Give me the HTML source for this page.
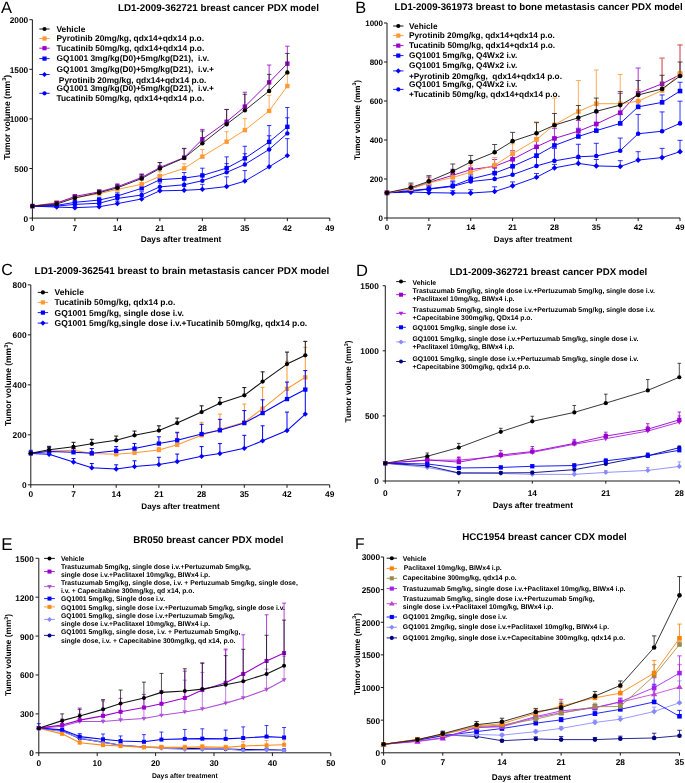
<!DOCTYPE html>
<html><head><meta charset="utf-8"><style>
html,body{margin:0;padding:0;background:#fff;width:685px;height:783px;overflow:hidden}
svg{display:block;will-change:transform}
text{font-family:"Liberation Sans", sans-serif;text-rendering:geometricPrecision}
</style></head><body>
<svg width="685" height="783" viewBox="0 0 685 783">
<text x="1" y="13.2" font-size="16.5" text-anchor="start" font-weight="normal" fill="#000">A</text>
<text x="118" y="11.1" font-size="9.83" text-anchor="start" font-weight="bold" fill="#000">LD1-2009-362721 breast cancer PDX model</text>
<path d="M32.4 19.7V218.1 M31.9 218.1H329.83" stroke="#1a1a1a" stroke-width="1.0" fill="none"/>
<path d="M29.4 218.1H32.4M29.4 168.5H32.4M29.4 118.9H32.4M29.4 69.3H32.4M29.4 19.7H32.4M32.4 218.1V221.1M74.89 218.1V221.1M117.38 218.1V221.1M159.87 218.1V221.1M202.36 218.1V221.1M244.85 218.1V221.1M287.34 218.1V221.1M329.83 218.1V221.1" stroke="#1a1a1a" stroke-width="1.0" fill="none"/>
<text x="28.2" y="221.59" font-size="8.3" text-anchor="end" font-weight="bold" fill="#000">0</text>
<text x="28.2" y="171.99" font-size="8.3" text-anchor="end" font-weight="bold" fill="#000">500</text>
<text x="28.2" y="122.39" font-size="8.3" text-anchor="end" font-weight="bold" fill="#000">1000</text>
<text x="28.2" y="72.79" font-size="8.3" text-anchor="end" font-weight="bold" fill="#000">1500</text>
<text x="28.2" y="23.19" font-size="8.3" text-anchor="end" font-weight="bold" fill="#000">2000</text>
<text x="32.4" y="230.6" font-size="8.3" text-anchor="middle" font-weight="bold" fill="#000">0</text>
<text x="74.89" y="230.6" font-size="8.3" text-anchor="middle" font-weight="bold" fill="#000">7</text>
<text x="117.38" y="230.6" font-size="8.3" text-anchor="middle" font-weight="bold" fill="#000">14</text>
<text x="159.87" y="230.6" font-size="8.3" text-anchor="middle" font-weight="bold" fill="#000">21</text>
<text x="202.36" y="230.6" font-size="8.3" text-anchor="middle" font-weight="bold" fill="#000">28</text>
<text x="244.85" y="230.6" font-size="8.3" text-anchor="middle" font-weight="bold" fill="#000">35</text>
<text x="287.34" y="230.6" font-size="8.3" text-anchor="middle" font-weight="bold" fill="#000">42</text>
<text x="329.83" y="230.6" font-size="8.3" text-anchor="middle" font-weight="bold" fill="#000">49</text>
<text x="181" y="242.2" font-size="8.35" text-anchor="middle" font-weight="bold" fill="#000">Days after treatment</text>
<text transform="translate(9.6 117.3) rotate(-90)" font-size="8.6" text-anchor="middle" font-weight="bold">Tumor volume (mm<tspan font-size="5.59" dy="-3.27">3</tspan><tspan dy="3.27">)</tspan></text>
<path d="M56.68 207.09V205.7 M54.48 205.7H58.88M74.89 207.68V206.2 M72.69 206.2H77.09M99.17 206.69V204.71 M96.97 204.71H101.37M117.38 203.62V201.24 M115.18 201.24H119.58M141.66 198.95V196.28 M139.46 196.28H143.86M159.87 190.82V187.35 M157.67 187.35H162.07M184.15 190.32V186.36 M181.95 186.36H186.35M202.36 189.33V184.37 M200.16 184.37H204.56M226.64 186.55V176.83 M224.44 176.83H228.84M244.85 181.1V170.58 M242.65 170.58H247.05M269.13 166.81V149.45 M266.93 149.45H271.33M287.34 155.6V138.64 M285.14 138.64H289.54" stroke="#0000FF" stroke-width="0.8" fill="none"/>
<polyline points="32.4,206.1 56.68,207.09 74.89,207.68 99.17,206.69 117.38,203.62 141.66,198.95 159.87,190.82 184.15,190.32 202.36,189.33 226.64,186.55 244.85,181.1 269.13,166.81 287.34,155.6" stroke="#0000FF" stroke-width="0.95" fill="none" stroke-linejoin="round"/>
<path d="M32.4 203.37L35.13 206.1L32.4 208.82L29.67 206.1Z" fill="#0000FF"/>
<path d="M56.68 204.36L59.41 207.09L56.68 209.82L53.95 207.09Z" fill="#0000FF"/>
<path d="M74.89 204.96L77.62 207.68L74.89 210.41L72.16 207.68Z" fill="#0000FF"/>
<path d="M99.17 203.96L101.9 206.69L99.17 209.42L96.44 206.69Z" fill="#0000FF"/>
<path d="M117.38 200.89L120.11 203.62L117.38 206.34L114.65 203.62Z" fill="#0000FF"/>
<path d="M141.66 196.23L144.39 198.95L141.66 201.68L138.93 198.95Z" fill="#0000FF"/>
<path d="M159.87 188.09L162.6 190.82L159.87 193.55L157.14 190.82Z" fill="#0000FF"/>
<path d="M184.15 187.6L186.88 190.32L184.15 193.05L181.42 190.32Z" fill="#0000FF"/>
<path d="M202.36 186.6L205.09 189.33L202.36 192.06L199.63 189.33Z" fill="#0000FF"/>
<path d="M226.64 183.83L229.37 186.55L226.64 189.28L223.91 186.55Z" fill="#0000FF"/>
<path d="M244.85 178.37L247.58 181.1L244.85 183.83L242.12 181.1Z" fill="#0000FF"/>
<path d="M269.13 164.09L271.86 166.81L269.13 169.54L266.4 166.81Z" fill="#0000FF"/>
<path d="M287.34 152.88L290.07 155.6L287.34 158.33L284.61 155.6Z" fill="#0000FF"/>
<path d="M56.68 206.1V204.21 M54.48 204.21H58.88M74.89 204.41V202.23 M72.69 202.23H77.09M99.17 203.22V200.74 M96.97 200.74H101.37M117.38 198.46V195.78 M115.18 195.78H119.58M141.66 194.99V191.81 M139.46 191.81H143.86M159.87 186.85V182.88 M157.67 182.88H162.07M184.15 184.77V180.4 M181.95 180.4H186.35M202.36 180.7V175.44 M200.16 175.44H204.56M226.64 172.37V163.64 M224.44 163.64H228.84M244.85 164.43V153.72 M242.65 153.72H247.05M269.13 149.45V135.76 M266.93 135.76H271.33M287.34 133.38V117.81 M285.14 117.81H289.54" stroke="#0000FF" stroke-width="0.8" fill="none"/>
<polyline points="32.4,206.1 56.68,206.1 74.89,204.41 99.17,203.22 117.38,198.46 141.66,194.99 159.87,186.85 184.15,184.77 202.36,180.7 226.64,172.37 244.85,164.43 269.13,149.45 287.34,133.38" stroke="#0000FF" stroke-width="0.95" fill="none" stroke-linejoin="round"/>
<circle cx="32.4" cy="206.1" r="2.2" fill="#0000FF"/>
<circle cx="56.68" cy="206.1" r="2.2" fill="#0000FF"/>
<circle cx="74.89" cy="204.41" r="2.2" fill="#0000FF"/>
<circle cx="99.17" cy="203.22" r="2.2" fill="#0000FF"/>
<circle cx="117.38" cy="198.46" r="2.2" fill="#0000FF"/>
<circle cx="141.66" cy="194.99" r="2.2" fill="#0000FF"/>
<circle cx="159.87" cy="186.85" r="2.2" fill="#0000FF"/>
<circle cx="184.15" cy="184.77" r="2.2" fill="#0000FF"/>
<circle cx="202.36" cy="180.7" r="2.2" fill="#0000FF"/>
<circle cx="226.64" cy="172.37" r="2.2" fill="#0000FF"/>
<circle cx="244.85" cy="164.43" r="2.2" fill="#0000FF"/>
<circle cx="269.13" cy="149.45" r="2.2" fill="#0000FF"/>
<circle cx="287.34" cy="133.38" r="2.2" fill="#0000FF"/>
<path d="M56.68 205.4V203.22 M54.48 203.22H58.88M74.89 202.33V199.75 M72.69 199.75H77.09M99.17 200.05V197.27 M96.97 197.27H101.37M117.38 195.98V192.8 M115.18 192.8H119.58M141.66 188.34V184.37 M139.46 184.37H143.86M159.87 179.71V175.44 M157.67 175.44H162.07M184.15 178.12V172.47 M181.95 172.47H186.35M202.36 175.44V168.2 M200.16 168.2H204.56M226.64 168.1V156.89 M224.44 156.89H228.84M244.85 158.38V146.28 M242.65 146.28H247.05M269.13 141.91V125.55 M266.93 125.55H271.33M287.34 126.84V107.49 M285.14 107.49H289.54" stroke="#0000FF" stroke-width="0.8" fill="none"/>
<polyline points="32.4,206.1 56.68,205.4 74.89,202.33 99.17,200.05 117.38,195.98 141.66,188.34 159.87,179.71 184.15,178.12 202.36,175.44 226.64,168.1 244.85,158.38 269.13,141.91 287.34,126.84" stroke="#0000FF" stroke-width="0.95" fill="none" stroke-linejoin="round"/>
<rect x="30.2" y="203.9" width="4.4" height="4.4" fill="#0000FF"/>
<rect x="54.48" y="203.2" width="4.4" height="4.4" fill="#0000FF"/>
<rect x="72.69" y="200.13" width="4.4" height="4.4" fill="#0000FF"/>
<rect x="96.97" y="197.85" width="4.4" height="4.4" fill="#0000FF"/>
<rect x="115.18" y="193.78" width="4.4" height="4.4" fill="#0000FF"/>
<rect x="139.46" y="186.14" width="4.4" height="4.4" fill="#0000FF"/>
<rect x="157.67" y="177.51" width="4.4" height="4.4" fill="#0000FF"/>
<rect x="181.95" y="175.92" width="4.4" height="4.4" fill="#0000FF"/>
<rect x="200.16" y="173.24" width="4.4" height="4.4" fill="#0000FF"/>
<rect x="224.44" y="165.9" width="4.4" height="4.4" fill="#0000FF"/>
<rect x="242.65" y="156.18" width="4.4" height="4.4" fill="#0000FF"/>
<rect x="266.93" y="139.71" width="4.4" height="4.4" fill="#0000FF"/>
<rect x="285.14" y="124.64" width="4.4" height="4.4" fill="#0000FF"/>
<path d="M56.68 202.53V201.24 M54.48 201.24H58.88M74.89 197.66V195.78 M72.69 195.78H77.09M99.17 193.7V191.32 M96.97 191.32H101.37M117.38 189.43V186.36 M115.18 186.36H119.58M141.66 184.27V180.4 M139.46 180.4H143.86M159.87 176.24V171.48 M157.67 171.48H162.07M184.15 168.4V163.74 M181.95 163.74H186.35M202.36 156.6V149.45 M200.16 149.45H204.56M226.64 141.72V131.7 M224.44 131.7H228.84M244.85 130.11V118.7 M242.65 118.7H247.05M269.13 110.96V95.29 M266.93 95.29H271.33M287.34 86.06V73.76 M285.14 73.76H289.54" stroke="#FF9933" stroke-width="0.8" fill="none"/>
<polyline points="32.4,206.1 56.68,202.53 74.89,197.66 99.17,193.7 117.38,189.43 141.66,184.27 159.87,176.24 184.15,168.4 202.36,156.6 226.64,141.72 244.85,130.11 269.13,110.96 287.34,86.06" stroke="#FF9933" stroke-width="0.95" fill="none" stroke-linejoin="round"/>
<rect x="30.2" y="203.9" width="4.4" height="4.4" fill="#FF9933"/>
<rect x="54.48" y="200.33" width="4.4" height="4.4" fill="#FF9933"/>
<rect x="72.69" y="195.46" width="4.4" height="4.4" fill="#FF9933"/>
<rect x="96.97" y="191.5" width="4.4" height="4.4" fill="#FF9933"/>
<rect x="115.18" y="187.23" width="4.4" height="4.4" fill="#FF9933"/>
<rect x="139.46" y="182.07" width="4.4" height="4.4" fill="#FF9933"/>
<rect x="157.67" y="174.04" width="4.4" height="4.4" fill="#FF9933"/>
<rect x="181.95" y="166.2" width="4.4" height="4.4" fill="#FF9933"/>
<rect x="200.16" y="154.4" width="4.4" height="4.4" fill="#FF9933"/>
<rect x="224.44" y="139.52" width="4.4" height="4.4" fill="#FF9933"/>
<rect x="242.65" y="127.91" width="4.4" height="4.4" fill="#FF9933"/>
<rect x="266.93" y="108.76" width="4.4" height="4.4" fill="#FF9933"/>
<rect x="285.14" y="83.86" width="4.4" height="4.4" fill="#FF9933"/>
<path d="M56.68 203.22V201.24 M54.48 201.24H58.88M74.89 196.38V194.79 M72.69 194.79H77.09M99.17 191.91V189.83 M96.97 189.83H101.37M117.38 186.75V183.88 M115.18 183.88H119.58M141.66 177.43V173.96 M139.46 173.96H143.86M159.87 167.51V162.55 M157.67 162.55H162.07M184.15 157.59V148.66 M181.95 148.66H186.35M202.36 139.24V129.42 M200.16 129.42H204.56M226.64 121.78V109.38 M224.44 109.38H228.84M244.85 106.6V92.22 M242.65 92.22H247.05M269.13 82.39V65.03 M266.93 65.03H271.33M287.34 63.65V46.19 M285.14 46.19H289.54" stroke="#9900CC" stroke-width="0.8" fill="none"/>
<polyline points="32.4,206.1 56.68,203.22 74.89,196.38 99.17,191.91 117.38,186.75 141.66,177.43 159.87,167.51 184.15,157.59 202.36,139.24 226.64,121.78 244.85,106.6 269.13,82.39 287.34,63.65" stroke="#9900CC" stroke-width="0.95" fill="none" stroke-linejoin="round"/>
<rect x="30.2" y="203.9" width="4.4" height="4.4" fill="#9900CC"/>
<rect x="54.48" y="201.02" width="4.4" height="4.4" fill="#9900CC"/>
<rect x="72.69" y="194.18" width="4.4" height="4.4" fill="#9900CC"/>
<rect x="96.97" y="189.71" width="4.4" height="4.4" fill="#9900CC"/>
<rect x="115.18" y="184.55" width="4.4" height="4.4" fill="#9900CC"/>
<rect x="139.46" y="175.23" width="4.4" height="4.4" fill="#9900CC"/>
<rect x="157.67" y="165.31" width="4.4" height="4.4" fill="#9900CC"/>
<rect x="181.95" y="155.39" width="4.4" height="4.4" fill="#9900CC"/>
<rect x="200.16" y="137.04" width="4.4" height="4.4" fill="#9900CC"/>
<rect x="224.44" y="119.58" width="4.4" height="4.4" fill="#9900CC"/>
<rect x="242.65" y="104.4" width="4.4" height="4.4" fill="#9900CC"/>
<rect x="266.93" y="80.19" width="4.4" height="4.4" fill="#9900CC"/>
<rect x="285.14" y="61.45" width="4.4" height="4.4" fill="#9900CC"/>
<path d="M56.68 204.11V201.73 M54.48 201.73H58.88M74.89 197.96V195.78 M72.69 195.78H77.09M99.17 192.7V190.32 M96.97 190.32H101.37M117.38 187.84V184.87 M115.18 184.87H119.58M141.66 178.52V174.45 M139.46 174.45H143.86M159.87 168.5V162.55 M157.67 162.55H162.07M184.15 157.98V148.36 M181.95 148.36H186.35M202.36 143.3V131 M200.16 131H204.56M226.64 124.26V109.58 M224.44 109.58H228.84M244.85 110.37V94.3 M242.65 94.3H247.05M269.13 91.02V74.36 M266.93 74.36H271.33M287.34 72.38V53.43 M285.14 53.43H289.54" stroke="#222" stroke-width="0.8" fill="none"/>
<polyline points="32.4,206.1 56.68,204.11 74.89,197.96 99.17,192.7 117.38,187.84 141.66,178.52 159.87,168.5 184.15,157.98 202.36,143.3 226.64,124.26 244.85,110.37 269.13,91.02 287.34,72.38" stroke="#222" stroke-width="0.95" fill="none" stroke-linejoin="round"/>
<circle cx="32.4" cy="206.1" r="2.2" fill="#000000"/>
<circle cx="56.68" cy="204.11" r="2.2" fill="#000000"/>
<circle cx="74.89" cy="197.96" r="2.2" fill="#000000"/>
<circle cx="99.17" cy="192.7" r="2.2" fill="#000000"/>
<circle cx="117.38" cy="187.84" r="2.2" fill="#000000"/>
<circle cx="141.66" cy="178.52" r="2.2" fill="#000000"/>
<circle cx="159.87" cy="168.5" r="2.2" fill="#000000"/>
<circle cx="184.15" cy="157.98" r="2.2" fill="#000000"/>
<circle cx="202.36" cy="143.3" r="2.2" fill="#000000"/>
<circle cx="226.64" cy="124.26" r="2.2" fill="#000000"/>
<circle cx="244.85" cy="110.37" r="2.2" fill="#000000"/>
<circle cx="269.13" cy="91.02" r="2.2" fill="#000000"/>
<circle cx="287.34" cy="72.38" r="2.2" fill="#000000"/>
<path d="M39.3 29H49.7" stroke="#000000" stroke-width="0.9" fill="none"/>
<circle cx="44.5" cy="29" r="2.1" fill="#000000"/>
<text x="56.5" y="31.8" font-size="8.37" text-anchor="start" font-weight="bold" fill="#000" xml:space="preserve">Vehicle</text>
<path d="M39.3 38.5H49.7" stroke="#FF9933" stroke-width="0.9" fill="none"/>
<rect x="42.4" y="36.4" width="4.2" height="4.2" fill="#FF9933"/>
<text x="56.5" y="41.3" font-size="8.37" text-anchor="start" font-weight="bold" fill="#000" xml:space="preserve">Pyrotinib 20mg/kg, qdx14+qdx14 p.o.</text>
<path d="M39.3 48.2H49.7" stroke="#9900CC" stroke-width="0.9" fill="none"/>
<rect x="42.4" y="46.1" width="4.2" height="4.2" fill="#9900CC"/>
<text x="56.5" y="51" font-size="8.37" text-anchor="start" font-weight="bold" fill="#000" xml:space="preserve">Tucatinib 50mg/kg, qdx14+qdx14 p.o.</text>
<path d="M39.3 58.6H49.7" stroke="#0000FF" stroke-width="0.9" fill="none"/>
<rect x="42.4" y="56.5" width="4.2" height="4.2" fill="#0000FF"/>
<text x="56.5" y="61" font-size="8.37" text-anchor="start" font-weight="bold" fill="#000" xml:space="preserve">GQ1001 3mg/kg(D0)+5mg/kg(D21),  i.v.</text>
<path d="M39.3 74.5H49.7" stroke="#0000FF" stroke-width="0.9" fill="none"/>
<path d="M44.5 71.9L47.1 74.5L44.5 77.1L41.9 74.5Z" fill="#0000FF"/>
<text x="56.5" y="71.8" font-size="8.37" text-anchor="start" font-weight="bold" fill="#000" xml:space="preserve">GQ1001 3mg/kg(D0)+5mg/kg(D21),  i.v.+</text>
<text x="56.5" y="82.6" font-size="8.37" text-anchor="start" font-weight="bold" fill="#000" xml:space="preserve"> Pyrotinib 20mg/kg, qdx14+qdx14 p.o.</text>
<path d="M39.3 93.3H49.7" stroke="#0000FF" stroke-width="0.9" fill="none"/>
<circle cx="44.5" cy="93.3" r="2.1" fill="#0000FF"/>
<text x="56.5" y="90.8" font-size="8.37" text-anchor="start" font-weight="bold" fill="#000" xml:space="preserve">GQ1001 3mg/kg(D0)+5mg/kg(D21),  i.v.+</text>
<text x="56.5" y="100.6" font-size="8.37" text-anchor="start" font-weight="bold" fill="#000" xml:space="preserve">Tucatinib 50mg/kg, qdx14+qdx14 p.o.</text>
<text x="355.2" y="13.2" font-size="16.4" text-anchor="start" font-weight="normal" fill="#000">B</text>
<text x="394.5" y="10" font-size="9.68" text-anchor="start" font-weight="bold" fill="#000">LD1-2009-361973 breast to bone metastasis cancer PDX model</text>
<path d="M387 23V218 M386.5 218H680.02" stroke="#1a1a1a" stroke-width="1.0" fill="none"/>
<path d="M384 218H387M384 179H387M384 140H387M384 101H387M384 62H387M384 23H387M387 218V221M428.86 218V221M470.72 218V221M512.58 218V221M554.44 218V221M596.3 218V221M638.16 218V221M680.02 218V221" stroke="#1a1a1a" stroke-width="1.0" fill="none"/>
<text x="383" y="221.36" font-size="8" text-anchor="end" font-weight="bold" fill="#000">0</text>
<text x="383" y="182.36" font-size="8" text-anchor="end" font-weight="bold" fill="#000">200</text>
<text x="383" y="143.36" font-size="8" text-anchor="end" font-weight="bold" fill="#000">400</text>
<text x="383" y="104.36" font-size="8" text-anchor="end" font-weight="bold" fill="#000">600</text>
<text x="383" y="65.36" font-size="8" text-anchor="end" font-weight="bold" fill="#000">800</text>
<text x="383" y="26.36" font-size="8" text-anchor="end" font-weight="bold" fill="#000">1000</text>
<text x="387" y="230.3" font-size="8" text-anchor="middle" font-weight="bold" fill="#000">0</text>
<text x="428.86" y="230.3" font-size="8" text-anchor="middle" font-weight="bold" fill="#000">7</text>
<text x="470.72" y="230.3" font-size="8" text-anchor="middle" font-weight="bold" fill="#000">14</text>
<text x="512.58" y="230.3" font-size="8" text-anchor="middle" font-weight="bold" fill="#000">21</text>
<text x="554.44" y="230.3" font-size="8" text-anchor="middle" font-weight="bold" fill="#000">28</text>
<text x="596.3" y="230.3" font-size="8" text-anchor="middle" font-weight="bold" fill="#000">35</text>
<text x="638.16" y="230.3" font-size="8" text-anchor="middle" font-weight="bold" fill="#000">42</text>
<text x="680.02" y="230.3" font-size="8" text-anchor="middle" font-weight="bold" fill="#000">49</text>
<text x="533" y="242" font-size="8.1" text-anchor="middle" font-weight="bold" fill="#000">Days after treatment</text>
<text transform="translate(359.5 120) rotate(-90)" font-size="8.1" text-anchor="middle" font-weight="bold">Tumor volume (mm<tspan font-size="5.26" dy="-3.08">3</tspan><tspan dy="3.08">)</tspan></text>
<path d="M410.92 192.06V189.72 M408.42 189.72H413.42M428.86 192.65V189.72 M426.36 189.72H431.36M452.78 193.04V190.7 M450.28 190.7H455.28M470.72 193.04V189.72 M468.22 189.72H473.22M494.64 191.48V186.8 M492.14 186.8H497.14M512.58 185.82V181.93 M510.08 181.93H515.08M536.5 177.25V173.54 M534 173.54H539M554.44 167.88V164.38 M551.94 164.38H556.94M578.36 163.4V158.53 M575.86 158.53H580.86M596.3 165.94V159.5 M593.8 159.5H598.8M620.22 166.52V160.67 M617.72 160.67H622.72M638.16 160.09V151.7 M635.66 151.7H640.66M662.08 157.55V148.38 M659.58 148.38H664.58M680.02 151.7V140.39 M677.52 140.39H682.52" stroke="#0000FF" stroke-width="0.8" fill="none"/>
<polyline points="387,192.84 410.92,192.06 428.86,192.65 452.78,193.04 470.72,193.04 494.64,191.48 512.58,185.82 536.5,177.25 554.44,167.88 578.36,163.4 596.3,165.94 620.22,166.52 638.16,160.09 662.08,157.55 680.02,151.7" stroke="#0000FF" stroke-width="0.95" fill="none" stroke-linejoin="round"/>
<path d="M387 189.99L389.85 192.84L387 195.7L384.15 192.84Z" fill="#0000FF"/>
<path d="M410.92 189.21L413.77 192.06L410.92 194.92L408.07 192.06Z" fill="#0000FF"/>
<path d="M428.86 189.8L431.71 192.65L428.86 195.5L426.01 192.65Z" fill="#0000FF"/>
<path d="M452.78 190.19L455.63 193.04L452.78 195.89L449.93 193.04Z" fill="#0000FF"/>
<path d="M470.72 190.19L473.57 193.04L470.72 195.89L467.87 193.04Z" fill="#0000FF"/>
<path d="M494.64 188.63L497.49 191.48L494.64 194.33L491.79 191.48Z" fill="#0000FF"/>
<path d="M512.58 182.97L515.43 185.82L512.58 188.68L509.73 185.82Z" fill="#0000FF"/>
<path d="M536.5 174.39L539.35 177.25L536.5 180.1L533.65 177.25Z" fill="#0000FF"/>
<path d="M554.44 165.03L557.29 167.88L554.44 170.74L551.59 167.88Z" fill="#0000FF"/>
<path d="M578.36 160.55L581.21 163.4L578.36 166.25L575.51 163.4Z" fill="#0000FF"/>
<path d="M596.3 163.08L599.15 165.94L596.3 168.79L593.45 165.94Z" fill="#0000FF"/>
<path d="M620.22 163.67L623.07 166.52L620.22 169.37L617.37 166.52Z" fill="#0000FF"/>
<path d="M638.16 157.23L641.01 160.09L638.16 162.94L635.31 160.09Z" fill="#0000FF"/>
<path d="M662.08 154.7L664.93 157.55L662.08 160.4L659.23 157.55Z" fill="#0000FF"/>
<path d="M680.02 148.85L682.87 151.7L680.02 154.55L677.17 151.7Z" fill="#0000FF"/>
<path d="M410.92 191.28V188.75 M408.42 188.75H413.42M428.86 189.14V185.82 M426.36 185.82H431.36M452.78 186.41V181.93 M450.28 181.93H455.28M470.72 181.53V176.07 M468.22 176.07H473.22M494.64 179V172.18 M492.14 172.18H497.14M512.58 174.71V166.32 M510.08 166.32H515.08M536.5 165.94V157.55 M534 157.55H539M554.44 160.87V148.38 M551.94 148.38H556.94M578.36 156.77V144.29 M575.86 144.29H580.86M596.3 155.99V143.31 M593.8 143.31H598.8M620.22 150.72V138.05 M617.72 138.05H622.72M638.16 133.76V114.45 M635.66 114.45H640.66M662.08 131.22V111.92 M659.58 111.92H664.58M680.02 123.42V101.19 M677.52 101.19H682.52" stroke="#0000FF" stroke-width="0.8" fill="none"/>
<polyline points="387,192.84 410.92,191.28 428.86,189.14 452.78,186.41 470.72,181.53 494.64,179 512.58,174.71 536.5,165.94 554.44,160.87 578.36,156.77 596.3,155.99 620.22,150.72 638.16,133.76 662.08,131.22 680.02,123.42" stroke="#0000FF" stroke-width="0.95" fill="none" stroke-linejoin="round"/>
<circle cx="387" cy="192.84" r="2.3" fill="#0000FF"/>
<circle cx="410.92" cy="191.28" r="2.3" fill="#0000FF"/>
<circle cx="428.86" cy="189.14" r="2.3" fill="#0000FF"/>
<circle cx="452.78" cy="186.41" r="2.3" fill="#0000FF"/>
<circle cx="470.72" cy="181.53" r="2.3" fill="#0000FF"/>
<circle cx="494.64" cy="179" r="2.3" fill="#0000FF"/>
<circle cx="512.58" cy="174.71" r="2.3" fill="#0000FF"/>
<circle cx="536.5" cy="165.94" r="2.3" fill="#0000FF"/>
<circle cx="554.44" cy="160.87" r="2.3" fill="#0000FF"/>
<circle cx="578.36" cy="156.77" r="2.3" fill="#0000FF"/>
<circle cx="596.3" cy="155.99" r="2.3" fill="#0000FF"/>
<circle cx="620.22" cy="150.72" r="2.3" fill="#0000FF"/>
<circle cx="638.16" cy="133.76" r="2.3" fill="#0000FF"/>
<circle cx="662.08" cy="131.22" r="2.3" fill="#0000FF"/>
<circle cx="680.02" cy="123.42" r="2.3" fill="#0000FF"/>
<path d="M410.92 190.5V187.78 M408.42 187.78H413.42M428.86 188.75V184.85 M426.36 184.85H431.36M452.78 185.82V180.95 M450.28 180.95H455.28M470.72 179V174.12 M468.22 174.12H473.22M494.64 173.15V167.3 M492.14 167.3H497.14M512.58 166.32V159.5 M510.08 159.5H515.08M536.5 155.6V147.8 M534 147.8H539M554.44 145.46V138.05 M551.94 138.05H556.94M578.36 136.49V128.3 M575.86 128.3H580.86M596.3 130.64V122.45 M593.8 122.45H598.8M620.22 123.42V114.65 M617.72 114.65H622.72M638.16 106.85V101.19 M635.66 101.19H640.66M662.08 102.36V94.95 M659.58 94.95H664.58M680.02 91.05V82.28 M677.52 82.28H682.52" stroke="#0000FF" stroke-width="0.8" fill="none"/>
<polyline points="387,192.84 410.92,190.5 428.86,188.75 452.78,185.82 470.72,179 494.64,173.15 512.58,166.32 536.5,155.6 554.44,145.46 578.36,136.49 596.3,130.64 620.22,123.42 638.16,106.85 662.08,102.36 680.02,91.05" stroke="#0000FF" stroke-width="0.95" fill="none" stroke-linejoin="round"/>
<rect x="384.7" y="190.54" width="4.6" height="4.6" fill="#0000FF"/>
<rect x="408.62" y="188.2" width="4.6" height="4.6" fill="#0000FF"/>
<rect x="426.56" y="186.45" width="4.6" height="4.6" fill="#0000FF"/>
<rect x="450.48" y="183.52" width="4.6" height="4.6" fill="#0000FF"/>
<rect x="468.42" y="176.7" width="4.6" height="4.6" fill="#0000FF"/>
<rect x="492.34" y="170.85" width="4.6" height="4.6" fill="#0000FF"/>
<rect x="510.28" y="164.02" width="4.6" height="4.6" fill="#0000FF"/>
<rect x="534.2" y="153.3" width="4.6" height="4.6" fill="#0000FF"/>
<rect x="552.14" y="143.16" width="4.6" height="4.6" fill="#0000FF"/>
<rect x="576.06" y="134.19" width="4.6" height="4.6" fill="#0000FF"/>
<rect x="594" y="128.34" width="4.6" height="4.6" fill="#0000FF"/>
<rect x="617.92" y="121.12" width="4.6" height="4.6" fill="#0000FF"/>
<rect x="635.86" y="104.55" width="4.6" height="4.6" fill="#0000FF"/>
<rect x="659.78" y="100.06" width="4.6" height="4.6" fill="#0000FF"/>
<rect x="677.72" y="88.75" width="4.6" height="4.6" fill="#0000FF"/>
<path d="M410.92 188.75V184.85 M408.42 184.85H413.42M428.86 182.51V177.05 M426.36 177.05H431.36M452.78 175.3V169.25 M450.28 169.25H455.28M470.72 169.64V162.43 M468.22 162.43H473.22M494.64 166.32V159.5 M492.14 159.5H497.14M512.58 159.31V150.72 M510.08 150.72H515.08M536.5 146.82V138.05 M534 138.05H539M554.44 138.44V128.3 M551.94 128.3H556.94M578.36 131.22V120.5 M575.86 120.5H580.86M596.3 124.01V112.7 M593.8 112.7H598.8M620.22 112.7V93.39 M617.72 93.39H622.72M638.16 93.2V68.04 M635.66 68.04H640.66M662.08 83.84V58.1 M659.58 58.1H664.58M680.02 74.67V45.03 M677.52 45.03H682.52" stroke="#9900CC" stroke-width="0.8" fill="none"/>
<polyline points="387,192.84 410.92,188.75 428.86,182.51 452.78,175.3 470.72,169.64 494.64,166.32 512.58,159.31 536.5,146.82 554.44,138.44 578.36,131.22 596.3,124.01 620.22,112.7 638.16,93.2 662.08,83.84 680.02,74.67" stroke="#9900CC" stroke-width="0.95" fill="none" stroke-linejoin="round"/>
<rect x="384.7" y="190.54" width="4.6" height="4.6" fill="#9900CC"/>
<rect x="408.62" y="186.45" width="4.6" height="4.6" fill="#9900CC"/>
<rect x="426.56" y="180.21" width="4.6" height="4.6" fill="#9900CC"/>
<rect x="450.48" y="173" width="4.6" height="4.6" fill="#9900CC"/>
<rect x="468.42" y="167.34" width="4.6" height="4.6" fill="#9900CC"/>
<rect x="492.34" y="164.02" width="4.6" height="4.6" fill="#9900CC"/>
<rect x="510.28" y="157" width="4.6" height="4.6" fill="#9900CC"/>
<rect x="534.2" y="144.52" width="4.6" height="4.6" fill="#9900CC"/>
<rect x="552.14" y="136.14" width="4.6" height="4.6" fill="#9900CC"/>
<rect x="576.06" y="128.92" width="4.6" height="4.6" fill="#9900CC"/>
<rect x="594" y="121.71" width="4.6" height="4.6" fill="#9900CC"/>
<rect x="617.92" y="110.4" width="4.6" height="4.6" fill="#9900CC"/>
<rect x="635.86" y="90.9" width="4.6" height="4.6" fill="#9900CC"/>
<rect x="659.78" y="81.54" width="4.6" height="4.6" fill="#9900CC"/>
<rect x="677.72" y="72.37" width="4.6" height="4.6" fill="#9900CC"/>
<path d="M410.92 188.75V184.85 M408.42 184.85H413.42M428.86 182.9V178.03 M426.36 178.03H431.36M452.78 177.44V171.2 M450.28 171.2H455.28M470.72 172.18V165.35 M468.22 165.35H473.22M494.64 165.16V157.55 M492.14 157.55H497.14M512.58 153.65V143.9 M510.08 143.9H515.08M536.5 139.61V121.86 M534 121.86H539M554.44 124.79V98.08 M551.94 98.08H556.94M578.36 111.53V80.53 M575.86 80.53H580.86M596.3 103.73V70 M593.8 70H598.8M620.22 103.73V74.48 M617.72 74.48H622.72M638.16 101.19V89.3 M635.66 89.3H640.66M662.08 90.47V58.49 M659.58 58.49H664.58M680.02 73.31V44.45 M677.52 44.45H682.52" stroke="#FF9933" stroke-width="0.8" fill="none"/>
<polyline points="387,192.84 410.92,188.75 428.86,182.9 452.78,177.44 470.72,172.18 494.64,165.16 512.58,153.65 536.5,139.61 554.44,124.79 578.36,111.53 596.3,103.73 620.22,103.73 638.16,101.19 662.08,90.47 680.02,73.31" stroke="#FF9933" stroke-width="0.95" fill="none" stroke-linejoin="round"/>
<rect x="384.7" y="190.54" width="4.6" height="4.6" fill="#FF9933"/>
<rect x="408.62" y="186.45" width="4.6" height="4.6" fill="#FF9933"/>
<rect x="426.56" y="180.6" width="4.6" height="4.6" fill="#FF9933"/>
<rect x="450.48" y="175.14" width="4.6" height="4.6" fill="#FF9933"/>
<rect x="468.42" y="169.88" width="4.6" height="4.6" fill="#FF9933"/>
<rect x="492.34" y="162.85" width="4.6" height="4.6" fill="#FF9933"/>
<rect x="510.28" y="151.35" width="4.6" height="4.6" fill="#FF9933"/>
<rect x="534.2" y="137.31" width="4.6" height="4.6" fill="#FF9933"/>
<rect x="552.14" y="122.49" width="4.6" height="4.6" fill="#FF9933"/>
<rect x="576.06" y="109.23" width="4.6" height="4.6" fill="#FF9933"/>
<rect x="594" y="101.43" width="4.6" height="4.6" fill="#FF9933"/>
<rect x="617.92" y="101.43" width="4.6" height="4.6" fill="#FF9933"/>
<rect x="635.86" y="98.89" width="4.6" height="4.6" fill="#FF9933"/>
<rect x="659.78" y="88.17" width="4.6" height="4.6" fill="#FF9933"/>
<rect x="677.72" y="71.01" width="4.6" height="4.6" fill="#FF9933"/>
<path d="M410.92 187.58V183.09 M408.42 183.09H413.42M428.86 181.34V175.69 M426.36 175.69H431.36M452.78 171.2V163.99 M450.28 163.99H455.28M470.72 162.03V155.41 M468.22 155.41H473.22M494.64 152.28V144.49 M492.14 144.49H497.14M512.58 141.17V132.39 M510.08 132.39H515.08M536.5 133.18V122.64 M534 122.64H539M554.44 125.18V113.48 M551.94 113.48H556.94M578.36 117.77V105.48 M575.86 105.48H580.86M596.3 111.33V98.08 M593.8 98.08H598.8M620.22 105.09V91.64 M617.72 91.64H622.72M638.16 94.95V80.53 M635.66 80.53H640.66M662.08 88.91V75.26 M659.58 75.26H664.58M680.02 76.04V62 M677.52 62H682.52" stroke="#222" stroke-width="0.8" fill="none"/>
<polyline points="387,192.84 410.92,187.58 428.86,181.34 452.78,171.2 470.72,162.03 494.64,152.28 512.58,141.17 536.5,133.18 554.44,125.18 578.36,117.77 596.3,111.33 620.22,105.09 638.16,94.95 662.08,88.91 680.02,76.04" stroke="#222" stroke-width="0.95" fill="none" stroke-linejoin="round"/>
<circle cx="387" cy="192.84" r="2.3" fill="#000000"/>
<circle cx="410.92" cy="187.58" r="2.3" fill="#000000"/>
<circle cx="428.86" cy="181.34" r="2.3" fill="#000000"/>
<circle cx="452.78" cy="171.2" r="2.3" fill="#000000"/>
<circle cx="470.72" cy="162.03" r="2.3" fill="#000000"/>
<circle cx="494.64" cy="152.28" r="2.3" fill="#000000"/>
<circle cx="512.58" cy="141.17" r="2.3" fill="#000000"/>
<circle cx="536.5" cy="133.18" r="2.3" fill="#000000"/>
<circle cx="554.44" cy="125.18" r="2.3" fill="#000000"/>
<circle cx="578.36" cy="117.77" r="2.3" fill="#000000"/>
<circle cx="596.3" cy="111.33" r="2.3" fill="#000000"/>
<circle cx="620.22" cy="105.09" r="2.3" fill="#000000"/>
<circle cx="638.16" cy="94.95" r="2.3" fill="#000000"/>
<circle cx="662.08" cy="88.91" r="2.3" fill="#000000"/>
<circle cx="680.02" cy="76.04" r="2.3" fill="#000000"/>
<path d="M393.1 26H403.5" stroke="#000000" stroke-width="0.9" fill="none"/>
<circle cx="398.3" cy="26" r="2.1" fill="#000000"/>
<text x="409" y="28.8" font-size="8.28" text-anchor="start" font-weight="bold" fill="#000" xml:space="preserve">Vehicle</text>
<path d="M393.1 35.6H403.5" stroke="#FF9933" stroke-width="0.9" fill="none"/>
<rect x="396.2" y="33.5" width="4.2" height="4.2" fill="#FF9933"/>
<text x="409" y="38.3" font-size="8.28" text-anchor="start" font-weight="bold" fill="#000" xml:space="preserve">Pyrotinib 20mg/kg, qdx14+qdx14 p.o.</text>
<path d="M393.1 45.6H403.5" stroke="#9900CC" stroke-width="0.9" fill="none"/>
<rect x="396.2" y="43.5" width="4.2" height="4.2" fill="#9900CC"/>
<text x="409" y="48.2" font-size="8.28" text-anchor="start" font-weight="bold" fill="#000" xml:space="preserve">Tucatinib 50mg/kg, qdx14+qdx14 p.o.</text>
<path d="M393.1 55.6H403.5" stroke="#0000FF" stroke-width="0.9" fill="none"/>
<rect x="396.2" y="53.5" width="4.2" height="4.2" fill="#0000FF"/>
<text x="409" y="57.9" font-size="8.28" text-anchor="start" font-weight="bold" fill="#000" xml:space="preserve">GQ1001 5mg/kg, Q4Wx2 i.v.</text>
<path d="M393.1 70.9H403.5" stroke="#0000FF" stroke-width="0.9" fill="none"/>
<path d="M398.3 68.3L400.9 70.9L398.3 73.5L395.7 70.9Z" fill="#0000FF"/>
<text x="409" y="68.1" font-size="8.28" text-anchor="start" font-weight="bold" fill="#000" xml:space="preserve">GQ1001 5mg/kg, Q4Wx2 i.v.</text>
<text x="409" y="79.3" font-size="8.28" text-anchor="start" font-weight="bold" fill="#000" xml:space="preserve">+Pyrotinib 20mg/kg,  qdx14+qdx14 p.o.</text>
<path d="M393.1 89.4H403.5" stroke="#0000FF" stroke-width="0.9" fill="none"/>
<circle cx="398.3" cy="89.4" r="2.1" fill="#0000FF"/>
<text x="409" y="86.6" font-size="8.28" text-anchor="start" font-weight="bold" fill="#000" xml:space="preserve">GQ1001 5mg/kg, Q4Wx2 i.v.</text>
<text x="409" y="96.6" font-size="8.28" text-anchor="start" font-weight="bold" fill="#000" xml:space="preserve">+Tucatinib 50mg/kg, qdx14+qdx14 p.o.</text>
<text x="1.2" y="275" font-size="16" text-anchor="start" font-weight="normal" fill="#000">C</text>
<text x="34.6" y="273.5" font-size="9.9" text-anchor="start" font-weight="bold" fill="#000">LD1-2009-362541 breast to brain metastasis cancer PDX model</text>
<path d="M30.8 284.88V484.8 M30.3 484.8H329.7" stroke="#1a1a1a" stroke-width="1.0" fill="none"/>
<path d="M27.8 484.8H30.8M27.8 434.82H30.8M27.8 384.84H30.8M27.8 334.86H30.8M27.8 284.88H30.8M30.8 484.8V487.8M73.5 484.8V487.8M116.2 484.8V487.8M158.9 484.8V487.8M201.6 484.8V487.8M244.3 484.8V487.8M287 484.8V487.8M329.7 484.8V487.8" stroke="#1a1a1a" stroke-width="1.0" fill="none"/>
<text x="26.6" y="488.33" font-size="8.4" text-anchor="end" font-weight="bold" fill="#000">0</text>
<text x="26.6" y="438.35" font-size="8.4" text-anchor="end" font-weight="bold" fill="#000">200</text>
<text x="26.6" y="388.37" font-size="8.4" text-anchor="end" font-weight="bold" fill="#000">400</text>
<text x="26.6" y="338.39" font-size="8.4" text-anchor="end" font-weight="bold" fill="#000">600</text>
<text x="26.6" y="288.41" font-size="8.4" text-anchor="end" font-weight="bold" fill="#000">800</text>
<text x="30.8" y="497" font-size="8.4" text-anchor="middle" font-weight="bold" fill="#000">0</text>
<text x="73.5" y="497" font-size="8.4" text-anchor="middle" font-weight="bold" fill="#000">7</text>
<text x="116.2" y="497" font-size="8.4" text-anchor="middle" font-weight="bold" fill="#000">14</text>
<text x="158.9" y="497" font-size="8.4" text-anchor="middle" font-weight="bold" fill="#000">21</text>
<text x="201.6" y="497" font-size="8.4" text-anchor="middle" font-weight="bold" fill="#000">28</text>
<text x="244.3" y="497" font-size="8.4" text-anchor="middle" font-weight="bold" fill="#000">35</text>
<text x="287" y="497" font-size="8.4" text-anchor="middle" font-weight="bold" fill="#000">42</text>
<text x="329.7" y="497" font-size="8.4" text-anchor="middle" font-weight="bold" fill="#000">49</text>
<text x="180.5" y="508.7" font-size="8.1" text-anchor="middle" font-weight="bold" fill="#000">Days after treatment</text>
<text transform="translate(11 384) rotate(-90)" font-size="8.5" text-anchor="middle" font-weight="bold">Tumor volume (mm<tspan font-size="5.53" dy="-3.23">3</tspan><tspan dy="3.23">)</tspan></text>
<path d="M49.1 454.31V452.31 M47.1 452.31H51.1M73.5 462.06V458.56 M71.5 458.56H75.5M91.8 467.81V463.56 M89.8 463.56H93.8M116.2 469.06V464.81 M114.2 464.81H118.2M134.5 466.56V460.81 M132.5 460.81H136.5M158.9 464.56V457.31 M156.9 457.31H160.9M177.2 461.56V454.06 M175.2 454.06H179.2M201.6 456.31V446.57 M199.6 446.57H203.6M219.9 453.56V443.57 M217.9 443.57H221.9M244.3 448.31V435.32 M242.3 435.32H246.3M262.6 440.82V425.82 M260.6 425.82H264.6M287 430.57V412.08 M285 412.08H289M305.3 414.08V388.84 M303.3 388.84H307.3" stroke="#0000FF" stroke-width="1.0" fill="none"/>
<polyline points="30.8,453.56 49.1,454.31 73.5,462.06 91.8,467.81 116.2,469.06 134.5,466.56 158.9,464.56 177.2,461.56 201.6,456.31 219.9,453.56 244.3,448.31 262.6,440.82 287,430.57 305.3,414.08" stroke="#0000FF" stroke-width="1.1" fill="none" stroke-linejoin="round"/>
<path d="M30.8 450.9L33.47 453.56L30.8 456.23L28.13 453.56Z" fill="#0000FF"/>
<path d="M49.1 451.65L51.77 454.31L49.1 456.98L46.43 454.31Z" fill="#0000FF"/>
<path d="M73.5 459.39L76.17 462.06L73.5 464.73L70.83 462.06Z" fill="#0000FF"/>
<path d="M91.8 465.14L94.47 467.81L91.8 470.47L89.13 467.81Z" fill="#0000FF"/>
<path d="M116.2 466.39L118.87 469.06L116.2 471.72L113.53 469.06Z" fill="#0000FF"/>
<path d="M134.5 463.89L137.17 466.56L134.5 469.22L131.83 466.56Z" fill="#0000FF"/>
<path d="M158.9 461.89L161.57 464.56L158.9 467.22L156.23 464.56Z" fill="#0000FF"/>
<path d="M177.2 458.89L179.87 461.56L177.2 464.23L174.53 461.56Z" fill="#0000FF"/>
<path d="M201.6 453.65L204.27 456.31L201.6 458.98L198.93 456.31Z" fill="#0000FF"/>
<path d="M219.9 450.9L222.57 453.56L219.9 456.23L217.23 453.56Z" fill="#0000FF"/>
<path d="M244.3 445.65L246.97 448.31L244.3 450.98L241.63 448.31Z" fill="#0000FF"/>
<path d="M262.6 438.15L265.27 440.82L262.6 443.48L259.93 440.82Z" fill="#0000FF"/>
<path d="M287 427.91L289.67 430.57L287 433.24L284.33 430.57Z" fill="#0000FF"/>
<path d="M305.3 411.41L307.97 414.08L305.3 416.74L302.63 414.08Z" fill="#0000FF"/>
<path d="M49.1 451.06V447.31 M47.1 447.31H51.1M73.5 450.31V447.31 M71.5 447.31H75.5M91.8 453.56V448.56 M89.8 448.56H93.8M116.2 454.31V451.06 M114.2 451.06H118.2M134.5 452.81V449.81 M132.5 449.81H136.5M158.9 450.06V447.31 M156.9 447.31H160.9M177.2 444.82V433.07 M175.2 433.07H179.2M201.6 435.32V422.32 M199.6 422.32H203.6M219.9 429.57V414.08 M217.9 414.08H221.9M244.3 422.32V404.08 M242.3 404.08H246.3M262.6 408.58V387.34 M260.6 387.34H264.6M287 388.84V361.35 M285 361.35H289M305.3 377.34V347.36 M303.3 347.36H307.3" stroke="#FF9933" stroke-width="1.0" fill="none"/>
<polyline points="30.8,453.31 49.1,451.06 73.5,450.31 91.8,453.56 116.2,454.31 134.5,452.81 158.9,450.06 177.2,444.82 201.6,435.32 219.9,429.57 244.3,422.32 262.6,408.58 287,388.84 305.3,377.34" stroke="#FF9933" stroke-width="1.1" fill="none" stroke-linejoin="round"/>
<rect x="28.65" y="451.16" width="4.3" height="4.3" fill="#FF9933"/>
<rect x="46.95" y="448.91" width="4.3" height="4.3" fill="#FF9933"/>
<rect x="71.35" y="448.16" width="4.3" height="4.3" fill="#FF9933"/>
<rect x="89.65" y="451.41" width="4.3" height="4.3" fill="#FF9933"/>
<rect x="114.05" y="452.16" width="4.3" height="4.3" fill="#FF9933"/>
<rect x="132.35" y="450.66" width="4.3" height="4.3" fill="#FF9933"/>
<rect x="156.75" y="447.91" width="4.3" height="4.3" fill="#FF9933"/>
<rect x="175.05" y="442.67" width="4.3" height="4.3" fill="#FF9933"/>
<rect x="199.45" y="433.17" width="4.3" height="4.3" fill="#FF9933"/>
<rect x="217.75" y="427.42" width="4.3" height="4.3" fill="#FF9933"/>
<rect x="242.15" y="420.18" width="4.3" height="4.3" fill="#FF9933"/>
<rect x="260.45" y="406.43" width="4.3" height="4.3" fill="#FF9933"/>
<rect x="284.85" y="386.69" width="4.3" height="4.3" fill="#FF9933"/>
<rect x="303.15" y="375.19" width="4.3" height="4.3" fill="#FF9933"/>
<path d="M30.8 453.31V450.31 M28.8 450.31H32.8M49.1 451.56V447.31 M47.1 447.31H51.1M73.5 452.31V448.56 M71.5 448.56H75.5M91.8 453.31V448.56 M89.8 448.56H93.8M116.2 450.81V446.57 M114.2 446.57H118.2M134.5 448.56V443.57 M132.5 443.57H136.5M158.9 443.57V436.82 M156.9 436.82H160.9M177.2 440.32V432.32 M175.2 432.32H179.2M201.6 434.07V424.32 M199.6 424.32H203.6M219.9 430.32V419.33 M217.9 419.33H221.9M244.3 423.07V410.58 M242.3 410.58H246.3M262.6 413.08V399.83 M260.6 399.83H264.6M287 399.08V382.09 M285 382.09H289M305.3 389.59V370.6 M303.3 370.6H307.3" stroke="#0000FF" stroke-width="1.0" fill="none"/>
<polyline points="30.8,453.31 49.1,451.56 73.5,452.31 91.8,453.31 116.2,450.81 134.5,448.56 158.9,443.57 177.2,440.32 201.6,434.07 219.9,430.32 244.3,423.07 262.6,413.08 287,399.08 305.3,389.59" stroke="#0000FF" stroke-width="1.1" fill="none" stroke-linejoin="round"/>
<rect x="28.65" y="451.16" width="4.3" height="4.3" fill="#0000FF"/>
<rect x="46.95" y="449.41" width="4.3" height="4.3" fill="#0000FF"/>
<rect x="71.35" y="450.16" width="4.3" height="4.3" fill="#0000FF"/>
<rect x="89.65" y="451.16" width="4.3" height="4.3" fill="#0000FF"/>
<rect x="114.05" y="448.66" width="4.3" height="4.3" fill="#0000FF"/>
<rect x="132.35" y="446.41" width="4.3" height="4.3" fill="#0000FF"/>
<rect x="156.75" y="441.42" width="4.3" height="4.3" fill="#0000FF"/>
<rect x="175.05" y="438.17" width="4.3" height="4.3" fill="#0000FF"/>
<rect x="199.45" y="431.92" width="4.3" height="4.3" fill="#0000FF"/>
<rect x="217.75" y="428.17" width="4.3" height="4.3" fill="#0000FF"/>
<rect x="242.15" y="420.92" width="4.3" height="4.3" fill="#0000FF"/>
<rect x="260.45" y="410.93" width="4.3" height="4.3" fill="#0000FF"/>
<rect x="284.85" y="396.93" width="4.3" height="4.3" fill="#0000FF"/>
<rect x="303.15" y="387.44" width="4.3" height="4.3" fill="#0000FF"/>
<path d="M49.1 449.81V446.32 M47.1 446.32H51.1M73.5 446.82V442.32 M71.5 442.32H75.5M91.8 443.82V439.32 M89.8 439.32H93.8M116.2 440.32V436.07 M114.2 436.07H118.2M134.5 435.32V431.07 M132.5 431.07H136.5M158.9 430.57V425.82 M156.9 425.82H160.9M177.2 423.07V418.08 M175.2 418.08H179.2M201.6 412.08V405.83 M199.6 405.83H203.6M219.9 403.33V397.58 M217.9 397.58H221.9M244.3 395.34V387.59 M242.3 387.59H246.3M262.6 381.59V371.85 M260.6 371.85H264.6M287 364.1V352.1 M285 352.1H289M305.3 355.35V341.36 M303.3 341.36H307.3" stroke="#111" stroke-width="1.0" fill="none"/>
<polyline points="30.8,453.31 49.1,449.81 73.5,446.82 91.8,443.82 116.2,440.32 134.5,435.32 158.9,430.57 177.2,423.07 201.6,412.08 219.9,403.33 244.3,395.34 262.6,381.59 287,364.1 305.3,355.35" stroke="#111" stroke-width="1.1" fill="none" stroke-linejoin="round"/>
<circle cx="30.8" cy="453.31" r="2.15" fill="#000000"/>
<circle cx="49.1" cy="449.81" r="2.15" fill="#000000"/>
<circle cx="73.5" cy="446.82" r="2.15" fill="#000000"/>
<circle cx="91.8" cy="443.82" r="2.15" fill="#000000"/>
<circle cx="116.2" cy="440.32" r="2.15" fill="#000000"/>
<circle cx="134.5" cy="435.32" r="2.15" fill="#000000"/>
<circle cx="158.9" cy="430.57" r="2.15" fill="#000000"/>
<circle cx="177.2" cy="423.07" r="2.15" fill="#000000"/>
<circle cx="201.6" cy="412.08" r="2.15" fill="#000000"/>
<circle cx="219.9" cy="403.33" r="2.15" fill="#000000"/>
<circle cx="244.3" cy="395.34" r="2.15" fill="#000000"/>
<circle cx="262.6" cy="381.59" r="2.15" fill="#000000"/>
<circle cx="287" cy="364.1" r="2.15" fill="#000000"/>
<circle cx="305.3" cy="355.35" r="2.15" fill="#000000"/>
<path d="M37.7 292.4H48.1" stroke="#000000" stroke-width="0.9" fill="none"/>
<circle cx="42.9" cy="292.4" r="2.1" fill="#000000"/>
<text x="54.6" y="295.3" font-size="8.5" text-anchor="start" font-weight="bold" fill="#000" xml:space="preserve">Vehicle</text>
<path d="M37.7 302.4H48.1" stroke="#FF9933" stroke-width="0.9" fill="none"/>
<rect x="40.8" y="300.3" width="4.2" height="4.2" fill="#FF9933"/>
<text x="54.6" y="305.3" font-size="8.5" text-anchor="start" font-weight="bold" fill="#000" xml:space="preserve">Tucatinib 50mg/kg, qdx14 p.o.</text>
<path d="M37.7 312.6H48.1" stroke="#0000FF" stroke-width="0.9" fill="none"/>
<rect x="40.8" y="310.5" width="4.2" height="4.2" fill="#0000FF"/>
<text x="54.6" y="315.5" font-size="8.5" text-anchor="start" font-weight="bold" fill="#000" xml:space="preserve">GQ1001 5mg/kg, single dose i.v.</text>
<path d="M37.7 323.1H48.1" stroke="#0000FF" stroke-width="0.9" fill="none"/>
<path d="M42.9 320.5L45.5 323.1L42.9 325.7L40.3 323.1Z" fill="#0000FF"/>
<text x="54.6" y="326" font-size="8.5" text-anchor="start" font-weight="bold" fill="#000" xml:space="preserve">GQ1001 5mg/kg,single dose i.v.+Tucatinib 50mg/kg, qdx14 p.o.</text>
<text x="356" y="276.3" font-size="16.5" text-anchor="start" font-weight="normal" fill="#000">D</text>
<text x="449.7" y="274.6" font-size="9.67" text-anchor="start" font-weight="bold" fill="#000">LD1-2009-362721 breast cancer PDX model</text>
<path d="M385.3 285.7V481 M384.8 481H679.3" stroke="#1a1a1a" stroke-width="1.0" fill="none"/>
<path d="M382.7 481H385.3M382.7 415.9H385.3M382.7 350.8H385.3M382.7 285.7H385.3M385.3 481V483.6M458.8 481V483.6M532.3 481V483.6M605.8 481V483.6M679.3 481V483.6" stroke="#1a1a1a" stroke-width="1.0" fill="none"/>
<text x="378.8" y="484.49" font-size="8.3" text-anchor="end" font-weight="bold" fill="#000">0</text>
<text x="378.8" y="419.39" font-size="8.3" text-anchor="end" font-weight="bold" fill="#000">500</text>
<text x="378.8" y="354.29" font-size="8.3" text-anchor="end" font-weight="bold" fill="#000">1000</text>
<text x="378.8" y="289.19" font-size="8.3" text-anchor="end" font-weight="bold" fill="#000">1500</text>
<text x="385.3" y="496" font-size="8.3" text-anchor="middle" font-weight="bold" fill="#000">0</text>
<text x="458.8" y="496" font-size="8.3" text-anchor="middle" font-weight="bold" fill="#000">7</text>
<text x="532.3" y="496" font-size="8.3" text-anchor="middle" font-weight="bold" fill="#000">14</text>
<text x="605.8" y="496" font-size="8.3" text-anchor="middle" font-weight="bold" fill="#000">21</text>
<text x="679.3" y="496" font-size="8.3" text-anchor="middle" font-weight="bold" fill="#000">28</text>
<text x="532.8" y="508.2" font-size="8.3" text-anchor="middle" font-weight="bold" fill="#000">Days after treatment</text>
<text transform="translate(351.2 381.5) rotate(-90)" font-size="8.3" text-anchor="middle" font-weight="bold">Tumor volume (mm<tspan font-size="5.4" dy="-3.15">3</tspan><tspan dy="3.15">)</tspan></text>
<path d="M427.3 467.46V466.03 M425.5 466.03H429.1M458.8 473.19V471.89 M457 471.89H460.6M500.8 473.45V472.15 M499 472.15H502.6M532.3 474.36V472.93 M530.5 472.93H534.1M574.3 474.36V472.93 M572.5 472.93H576.1M605.8 472.41V470.58 M604 470.58H607.6M647.8 470.45V467.46 M646 467.46H649.6M679.3 466.42V461.86 M677.5 461.86H681.1" stroke="#8888FF" stroke-width="0.8" fill="none"/>
<polyline points="385.3,463.29 427.3,467.46 458.8,473.19 500.8,473.45 532.3,474.36 574.3,474.36 605.8,472.41 647.8,470.45 679.3,466.42" stroke="#8888FF" stroke-width="0.9" fill="none" stroke-linejoin="round"/>
<path d="M385.3 460.69L387.9 463.29L385.3 465.9L382.7 463.29Z" fill="#8888FF"/>
<path d="M427.3 464.86L429.9 467.46L427.3 470.06L424.7 467.46Z" fill="#8888FF"/>
<path d="M458.8 470.58L461.4 473.19L458.8 475.79L456.2 473.19Z" fill="#8888FF"/>
<path d="M500.8 470.84L503.4 473.45L500.8 476.05L498.2 473.45Z" fill="#8888FF"/>
<path d="M532.3 471.76L534.9 474.36L532.3 476.96L529.7 474.36Z" fill="#8888FF"/>
<path d="M574.3 471.76L576.9 474.36L574.3 476.96L571.7 474.36Z" fill="#8888FF"/>
<path d="M605.8 469.8L608.4 472.41L605.8 475.01L603.2 472.41Z" fill="#8888FF"/>
<path d="M647.8 467.85L650.4 470.45L647.8 473.06L645.2 470.45Z" fill="#8888FF"/>
<path d="M679.3 463.81L681.9 466.42L679.3 469.02L676.7 466.42Z" fill="#8888FF"/>
<path d="M427.3 465.77V464.33 M425.5 464.33H429.1M458.8 472.93V471.63 M457 471.63H460.6M500.8 472.93V471.63 M499 471.63H502.6M532.3 472.67V471.24 M530.5 471.24H534.1M574.3 469.67V467.98 M572.5 467.98H576.1M605.8 463.94V462.12 M604 462.12H607.6M647.8 455.74V453.4 M646 453.4H649.6M679.3 447.67V446.11 M677.5 446.11H681.1" stroke="#000080" stroke-width="0.8" fill="none"/>
<polyline points="385.3,463.29 427.3,465.77 458.8,472.93 500.8,472.93 532.3,472.67 574.3,469.67 605.8,463.94 647.8,455.74 679.3,447.67" stroke="#000080" stroke-width="0.9" fill="none" stroke-linejoin="round"/>
<circle cx="385.3" cy="463.29" r="2.1" fill="#000080"/>
<circle cx="427.3" cy="465.77" r="2.1" fill="#000080"/>
<circle cx="458.8" cy="472.93" r="2.1" fill="#000080"/>
<circle cx="500.8" cy="472.93" r="2.1" fill="#000080"/>
<circle cx="532.3" cy="472.67" r="2.1" fill="#000080"/>
<circle cx="574.3" cy="469.67" r="2.1" fill="#000080"/>
<circle cx="605.8" cy="463.94" r="2.1" fill="#000080"/>
<circle cx="647.8" cy="455.74" r="2.1" fill="#000080"/>
<circle cx="679.3" cy="447.67" r="2.1" fill="#000080"/>
<path d="M427.3 463.94V462.12 M425.5 462.12H429.1M458.8 467.98V466.42 M457 466.42H460.6M500.8 467.46V466.03 M499 466.03H502.6M532.3 466.29V464.73 M530.5 464.73H534.1M574.3 465.51V463.81 M572.5 463.81H576.1M605.8 460.82V458.87 M604 458.87H607.6M647.8 455.74V453.01 M646 453.01H649.6M679.3 450.27V447.15 M677.5 447.15H681.1" stroke="#0000FF" stroke-width="0.8" fill="none"/>
<polyline points="385.3,463.29 427.3,463.94 458.8,467.98 500.8,467.46 532.3,466.29 574.3,465.51 605.8,460.82 647.8,455.74 679.3,450.27" stroke="#0000FF" stroke-width="0.9" fill="none" stroke-linejoin="round"/>
<rect x="383.2" y="461.19" width="4.2" height="4.2" fill="#0000FF"/>
<rect x="425.2" y="461.84" width="4.2" height="4.2" fill="#0000FF"/>
<rect x="456.7" y="465.88" width="4.2" height="4.2" fill="#0000FF"/>
<rect x="498.7" y="465.36" width="4.2" height="4.2" fill="#0000FF"/>
<rect x="530.2" y="464.19" width="4.2" height="4.2" fill="#0000FF"/>
<rect x="572.2" y="463.41" width="4.2" height="4.2" fill="#0000FF"/>
<rect x="603.7" y="458.72" width="4.2" height="4.2" fill="#0000FF"/>
<rect x="645.7" y="453.64" width="4.2" height="4.2" fill="#0000FF"/>
<rect x="677.2" y="448.17" width="4.2" height="4.2" fill="#0000FF"/>
<path d="M427.3 460.17V458.21 M425.5 458.21H429.1M458.8 460.17V456.91 M457 456.91H460.6M500.8 456.26V453.01 M499 453.01H502.6M532.3 452.36V448.45 M530.5 448.45H534.1M574.3 444.28V440.64 M572.5 440.64H576.1M605.8 438.69V434.13 M604 434.13H607.6M647.8 431V426.32 M646 426.32H649.6M679.3 422.15V415.9 M677.5 415.9H681.1" stroke="#B020E0" stroke-width="0.8" fill="none"/>
<polyline points="385.3,463.29 427.3,460.17 458.8,460.17 500.8,456.26 532.3,452.36 574.3,444.28 605.8,438.69 647.8,431 679.3,422.15" stroke="#B020E0" stroke-width="0.9" fill="none" stroke-linejoin="round"/>
<path d="M382.78 461.53L387.82 461.53L385.3 465.81Z" fill="#B020E0"/>
<path d="M424.78 458.4L429.82 458.4L427.3 462.69Z" fill="#B020E0"/>
<path d="M456.28 458.4L461.32 458.4L458.8 462.69Z" fill="#B020E0"/>
<path d="M498.28 454.5L503.32 454.5L500.8 458.78Z" fill="#B020E0"/>
<path d="M529.78 450.59L534.82 450.59L532.3 454.88Z" fill="#B020E0"/>
<path d="M571.78 442.52L576.82 442.52L574.3 446.8Z" fill="#B020E0"/>
<path d="M603.28 436.92L608.32 436.92L605.8 441.2Z" fill="#B020E0"/>
<path d="M645.28 429.24L650.32 429.24L647.8 433.52Z" fill="#B020E0"/>
<path d="M676.78 420.39L681.82 420.39L679.3 424.67Z" fill="#B020E0"/>
<path d="M427.3 459.91V457.56 M425.5 457.56H429.1M458.8 462.12V457.56 M457 457.56H460.6M500.8 454.96V450.4 M499 450.4H502.6M532.3 451.57V446.5 M530.5 446.5H534.1M574.3 443.37V439.34 M572.5 439.34H576.1M605.8 436.08V432.18 M604 432.18H607.6M647.8 429.18V423.71 M646 423.71H649.6M679.3 419.81V411.99 M677.5 411.99H681.1" stroke="#9900CC" stroke-width="0.8" fill="none"/>
<polyline points="385.3,463.29 427.3,459.91 458.8,462.12 500.8,454.96 532.3,451.57 574.3,443.37 605.8,436.08 647.8,429.18 679.3,419.81" stroke="#9900CC" stroke-width="0.9" fill="none" stroke-linejoin="round"/>
<rect x="383.2" y="461.19" width="4.2" height="4.2" fill="#9900CC"/>
<rect x="425.2" y="457.81" width="4.2" height="4.2" fill="#9900CC"/>
<rect x="456.7" y="460.02" width="4.2" height="4.2" fill="#9900CC"/>
<rect x="498.7" y="452.86" width="4.2" height="4.2" fill="#9900CC"/>
<rect x="530.2" y="449.47" width="4.2" height="4.2" fill="#9900CC"/>
<rect x="572.2" y="441.27" width="4.2" height="4.2" fill="#9900CC"/>
<rect x="603.7" y="433.98" width="4.2" height="4.2" fill="#9900CC"/>
<rect x="645.7" y="427.08" width="4.2" height="4.2" fill="#9900CC"/>
<rect x="677.2" y="417.71" width="4.2" height="4.2" fill="#9900CC"/>
<path d="M427.3 456.26V453.01 M425.5 453.01H429.1M458.8 447.54V443.37 M457 443.37H460.6M500.8 431.78V428.27 M499 428.27H502.6M532.3 421.37V416.29 M530.5 416.29H534.1M574.3 412.38V405.48 M572.5 405.48H576.1M605.8 403.14V394.16 M604 394.16H607.6M647.8 390.38V379.57 M646 379.57H649.6M679.3 377.23V363.3 M677.5 363.3H681.1" stroke="#222" stroke-width="0.8" fill="none"/>
<polyline points="385.3,463.29 427.3,456.26 458.8,447.54 500.8,431.78 532.3,421.37 574.3,412.38 605.8,403.14 647.8,390.38 679.3,377.23" stroke="#222" stroke-width="0.9" fill="none" stroke-linejoin="round"/>
<circle cx="385.3" cy="463.29" r="2.1" fill="#000000"/>
<circle cx="427.3" cy="456.26" r="2.1" fill="#000000"/>
<circle cx="458.8" cy="447.54" r="2.1" fill="#000000"/>
<circle cx="500.8" cy="431.78" r="2.1" fill="#000000"/>
<circle cx="532.3" cy="421.37" r="2.1" fill="#000000"/>
<circle cx="574.3" cy="412.38" r="2.1" fill="#000000"/>
<circle cx="605.8" cy="403.14" r="2.1" fill="#000000"/>
<circle cx="647.8" cy="390.38" r="2.1" fill="#000000"/>
<circle cx="679.3" cy="377.23" r="2.1" fill="#000000"/>
<path d="M396.2 281.6H405.8" stroke="#000000" stroke-width="0.9" fill="none"/>
<circle cx="401" cy="281.6" r="2" fill="#000000"/>
<text x="412.5" y="284.6" font-size="6.86" text-anchor="start" font-weight="bold" fill="#000" xml:space="preserve">Vehicle</text>
<path d="M396.2 294.7H405.8" stroke="#9900CC" stroke-width="0.9" fill="none"/>
<rect x="399" y="292.7" width="4" height="4" fill="#9900CC"/>
<text x="412.5" y="293.2" font-size="6.86" text-anchor="start" font-weight="bold" fill="#000" xml:space="preserve">Trastuzumab 5mg/kg, single dose i.v.+Pertuzumab 5mg/kg, single dose i.v.</text>
<text x="412.5" y="301.4" font-size="6.86" text-anchor="start" font-weight="bold" fill="#000" xml:space="preserve">+Paclitaxel 10mg/kg, BIWx4 i.p.</text>
<path d="M396.2 313.4H405.8" stroke="#B020E0" stroke-width="0.9" fill="none"/>
<path d="M398.6 311.72L403.4 311.72L401 315.8Z" fill="#B020E0"/>
<text x="412.5" y="312.1" font-size="6.86" text-anchor="start" font-weight="bold" fill="#000" xml:space="preserve">Trastuzumab 5mg/kg, single dose i.v.+Pertuzumab 5mg/kg, single dose i.v.</text>
<text x="412.5" y="320.4" font-size="6.86" text-anchor="start" font-weight="bold" fill="#000" xml:space="preserve">+Capecitabine 300mg/kg, QDx14 p.o.</text>
<path d="M396.2 327.3H405.8" stroke="#0000FF" stroke-width="0.9" fill="none"/>
<rect x="399" y="325.3" width="4" height="4" fill="#0000FF"/>
<text x="412.5" y="329.8" font-size="6.86" text-anchor="start" font-weight="bold" fill="#000" xml:space="preserve">GQ1001 5mg/kg, single dose i.v.</text>
<path d="M396.2 341.9H405.8" stroke="#8888FF" stroke-width="0.9" fill="none"/>
<path d="M401 339.42L403.48 341.9L401 344.38L398.52 341.9Z" fill="#8888FF"/>
<text x="412.5" y="340.5" font-size="6.86" text-anchor="start" font-weight="bold" fill="#000" xml:space="preserve">GQ1001 5mg/kg, single dose i.v.+Pertuzumab 5mg/kg, single dose i.v.</text>
<text x="412.5" y="348.7" font-size="6.86" text-anchor="start" font-weight="bold" fill="#000" xml:space="preserve">+Paclitaxel 10mg/kg, BIWx4 i.p.</text>
<path d="M396.2 361.5H405.8" stroke="#000080" stroke-width="0.9" fill="none"/>
<circle cx="401" cy="361.5" r="2" fill="#000080"/>
<text x="412.5" y="360.6" font-size="6.86" text-anchor="start" font-weight="bold" fill="#000" xml:space="preserve">GQ1001 5mg/kg, single dose i.v.+Pertuzumab 5mg/kg, single dose i.v.</text>
<text x="412.5" y="368.8" font-size="6.86" text-anchor="start" font-weight="bold" fill="#000" xml:space="preserve">+Capecitabine 300mg/kg, qdx14 p.o.</text>
<text x="1.2" y="550.3" font-size="17" text-anchor="start" font-weight="normal" fill="#000">E</text>
<text x="133.2" y="543.1" font-size="9.73" text-anchor="start" font-weight="bold" fill="#000">BR050 breast cancer PDX model</text>
<path d="M38.8 558.25V752.8 M38.3 752.8H330.8" stroke="#1a1a1a" stroke-width="1.0" fill="none"/>
<path d="M35.5 752.8H38.8M35.5 713.89H38.8M35.5 674.98H38.8M35.5 636.07H38.8M35.5 597.16H38.8M35.5 558.25H38.8M38.8 752.8V756.1M97.2 752.8V756.1M155.6 752.8V756.1M214 752.8V756.1M272.4 752.8V756.1M330.8 752.8V756.1" stroke="#1a1a1a" stroke-width="1.0" fill="none"/>
<text x="33.8" y="756.29" font-size="8.3" text-anchor="end" font-weight="bold" fill="#000">0</text>
<text x="33.8" y="717.38" font-size="8.3" text-anchor="end" font-weight="bold" fill="#000">300</text>
<text x="33.8" y="678.47" font-size="8.3" text-anchor="end" font-weight="bold" fill="#000">600</text>
<text x="33.8" y="639.56" font-size="8.3" text-anchor="end" font-weight="bold" fill="#000">900</text>
<text x="33.8" y="600.65" font-size="8.3" text-anchor="end" font-weight="bold" fill="#000">1200</text>
<text x="33.8" y="561.74" font-size="8.3" text-anchor="end" font-weight="bold" fill="#000">1500</text>
<text x="38.8" y="766" font-size="8.3" text-anchor="middle" font-weight="bold" fill="#000">0</text>
<text x="97.2" y="766" font-size="8.3" text-anchor="middle" font-weight="bold" fill="#000">10</text>
<text x="155.6" y="766" font-size="8.3" text-anchor="middle" font-weight="bold" fill="#000">20</text>
<text x="214" y="766" font-size="8.3" text-anchor="middle" font-weight="bold" fill="#000">30</text>
<text x="272.4" y="766" font-size="8.3" text-anchor="middle" font-weight="bold" fill="#000">40</text>
<text x="330.8" y="766" font-size="8.3" text-anchor="middle" font-weight="bold" fill="#000">50</text>
<text x="184.8" y="777.9" font-size="6.8" text-anchor="middle" font-weight="bold" fill="#000">Days after treatment</text>
<text transform="translate(11.2 655) rotate(-90)" font-size="8.3" text-anchor="middle" font-weight="bold">Tumor volume (mm<tspan font-size="5.4" dy="-3.15">3</tspan><tspan dy="3.15">)</tspan></text>
<path d="M62.16 730.75V729.45 M60.16 729.45H64.16M79.68 738.53V736.59 M77.68 736.59H81.68M103.04 742.16V740.48 M101.04 740.48H105.04M120.56 745.28V743.72 M118.56 743.72H122.56M143.92 746.96V745.67 M141.92 745.67H145.92M161.44 747.61V746.31 M159.44 746.31H163.44M184.8 748.26V746.96 M182.8 746.96H186.8M202.32 748.91V747.61 M200.32 747.61H204.32M225.68 749.17V747.87 M223.68 747.87H227.68M243.2 749.56V748.26 M241.2 748.26H245.2M266.56 749.56V748.26 M264.56 748.26H268.56M284.08 750.21V748.91 M282.08 748.91H286.08" stroke="#000080" stroke-width="0.75" fill="none"/>
<polyline points="38.8,728.16 62.16,730.75 79.68,738.53 103.04,742.16 120.56,745.28 143.92,746.96 161.44,747.61 184.8,748.26 202.32,748.91 225.68,749.17 243.2,749.56 266.56,749.56 284.08,750.21" stroke="#000080" stroke-width="1.1" fill="none" stroke-linejoin="round"/>
<circle cx="38.8" cy="728.16" r="2" fill="#000080"/>
<circle cx="62.16" cy="730.75" r="2" fill="#000080"/>
<circle cx="79.68" cy="738.53" r="2" fill="#000080"/>
<circle cx="103.04" cy="742.16" r="2" fill="#000080"/>
<circle cx="120.56" cy="745.28" r="2" fill="#000080"/>
<circle cx="143.92" cy="746.96" r="2" fill="#000080"/>
<circle cx="161.44" cy="747.61" r="2" fill="#000080"/>
<circle cx="184.8" cy="748.26" r="2" fill="#000080"/>
<circle cx="202.32" cy="748.91" r="2" fill="#000080"/>
<circle cx="225.68" cy="749.17" r="2" fill="#000080"/>
<circle cx="243.2" cy="749.56" r="2" fill="#000080"/>
<circle cx="266.56" cy="749.56" r="2" fill="#000080"/>
<circle cx="284.08" cy="750.21" r="2" fill="#000080"/>
<path d="M62.16 731.4V730.1 M60.16 730.1H64.16M79.68 737.88V735.94 M77.68 735.94H81.68M103.04 742.42V740.48 M101.04 740.48H105.04M120.56 745.02V743.07 M118.56 743.07H122.56M143.92 746.96V745.67 M141.92 745.67H145.92M161.44 748.26V746.96 M159.44 746.96H163.44M184.8 749.43V748.13 M182.8 748.13H186.8M202.32 749.43V748.13 M200.32 748.13H204.32M225.68 748.91V747.61 M223.68 747.61H227.68M243.2 750.6V749.3 M241.2 749.3H245.2M266.56 749.95V748.65 M264.56 748.65H268.56M284.08 750.6V749.3 M282.08 749.3H286.08" stroke="#8888FF" stroke-width="0.75" fill="none"/>
<polyline points="38.8,728.16 62.16,731.4 79.68,737.88 103.04,742.42 120.56,745.02 143.92,746.96 161.44,748.26 184.8,749.43 202.32,749.43 225.68,748.91 243.2,750.6 266.56,749.95 284.08,750.6" stroke="#8888FF" stroke-width="1.1" fill="none" stroke-linejoin="round"/>
<path d="M38.8 725.68L41.28 728.16L38.8 730.64L36.32 728.16Z" fill="#8888FF"/>
<path d="M62.16 728.92L64.64 731.4L62.16 733.88L59.68 731.4Z" fill="#8888FF"/>
<path d="M79.68 735.4L82.16 737.88L79.68 740.36L77.2 737.88Z" fill="#8888FF"/>
<path d="M103.04 739.94L105.52 742.42L103.04 744.9L100.56 742.42Z" fill="#8888FF"/>
<path d="M120.56 742.54L123.04 745.02L120.56 747.5L118.08 745.02Z" fill="#8888FF"/>
<path d="M143.92 744.48L146.4 746.96L143.92 749.44L141.44 746.96Z" fill="#8888FF"/>
<path d="M161.44 745.78L163.92 748.26L161.44 750.74L158.96 748.26Z" fill="#8888FF"/>
<path d="M184.8 746.95L187.28 749.43L184.8 751.91L182.32 749.43Z" fill="#8888FF"/>
<path d="M202.32 746.95L204.8 749.43L202.32 751.91L199.84 749.43Z" fill="#8888FF"/>
<path d="M225.68 746.43L228.16 748.91L225.68 751.39L223.2 748.91Z" fill="#8888FF"/>
<path d="M243.2 748.12L245.68 750.6L243.2 753.08L240.72 750.6Z" fill="#8888FF"/>
<path d="M266.56 747.47L269.04 749.95L266.56 752.43L264.08 749.95Z" fill="#8888FF"/>
<path d="M284.08 748.12L286.56 750.6L284.08 753.08L281.6 750.6Z" fill="#8888FF"/>
<path d="M62.16 733.86V732.05 M60.16 732.05H64.16M79.68 742.68V740.87 M77.68 740.87H81.68M103.04 745.15V743.07 M101.04 743.07H105.04M120.56 746.06V743.98 M118.56 743.98H122.56M143.92 747.35V745.28 M141.92 745.28H145.92M161.44 747.35V745.28 M159.44 745.28H163.44M184.8 747.35V745.28 M182.8 745.28H186.8M202.32 746.83V744.76 M200.32 744.76H204.32M225.68 747.35V745.28 M223.68 745.28H227.68M243.2 745.93V741.78 M241.2 741.78H245.2M266.56 745.28V740.48 M264.56 740.48H268.56M284.08 744.76V739.83 M282.08 739.83H286.08" stroke="#FF8C1A" stroke-width="0.75" fill="none"/>
<polyline points="38.8,728.16 62.16,733.86 79.68,742.68 103.04,745.15 120.56,746.06 143.92,747.35 161.44,747.35 184.8,747.35 202.32,746.83 225.68,747.35 243.2,745.93 266.56,745.28 284.08,744.76" stroke="#FF8C1A" stroke-width="1.1" fill="none" stroke-linejoin="round"/>
<rect x="36.8" y="726.16" width="4" height="4" fill="#FF8C1A"/>
<rect x="60.16" y="731.86" width="4" height="4" fill="#FF8C1A"/>
<rect x="77.68" y="740.68" width="4" height="4" fill="#FF8C1A"/>
<rect x="101.04" y="743.15" width="4" height="4" fill="#FF8C1A"/>
<rect x="118.56" y="744.06" width="4" height="4" fill="#FF8C1A"/>
<rect x="141.92" y="745.35" width="4" height="4" fill="#FF8C1A"/>
<rect x="159.44" y="745.35" width="4" height="4" fill="#FF8C1A"/>
<rect x="182.8" y="745.35" width="4" height="4" fill="#FF8C1A"/>
<rect x="200.32" y="744.83" width="4" height="4" fill="#FF8C1A"/>
<rect x="223.68" y="745.35" width="4" height="4" fill="#FF8C1A"/>
<rect x="241.2" y="743.93" width="4" height="4" fill="#FF8C1A"/>
<rect x="264.56" y="743.28" width="4" height="4" fill="#FF8C1A"/>
<rect x="282.08" y="742.76" width="4" height="4" fill="#FF8C1A"/>
<path d="M38.8 728.16V723.62 M36.8 723.62H40.8M62.16 729.71V726.86 M60.16 726.86H64.16M79.68 736.59V733.6 M77.68 733.6H81.68M103.04 739.31V733.99 M101.04 733.99H105.04M120.56 741V735.94 M118.56 735.94H122.56M143.92 741.78V734.64 M141.92 734.64H145.92M161.44 739.57V732.05 M159.44 732.05H163.44M184.8 738.92V729.45 M182.8 729.45H186.8M202.32 738.66V728.81 M200.32 728.81H204.32M225.68 738.92V730.1 M223.68 730.1H227.68M243.2 738.01V726.86 M241.2 726.86H245.2M266.56 736.59V725.56 M264.56 725.56H268.56M284.08 737.5V727.51 M282.08 727.51H286.08" stroke="#0000FF" stroke-width="0.75" fill="none"/>
<polyline points="38.8,728.16 62.16,729.71 79.68,736.59 103.04,739.31 120.56,741 143.92,741.78 161.44,739.57 184.8,738.92 202.32,738.66 225.68,738.92 243.2,738.01 266.56,736.59 284.08,737.5" stroke="#0000FF" stroke-width="1.1" fill="none" stroke-linejoin="round"/>
<rect x="36.8" y="726.16" width="4" height="4" fill="#0000FF"/>
<rect x="60.16" y="727.71" width="4" height="4" fill="#0000FF"/>
<rect x="77.68" y="734.59" width="4" height="4" fill="#0000FF"/>
<rect x="101.04" y="737.31" width="4" height="4" fill="#0000FF"/>
<rect x="118.56" y="739" width="4" height="4" fill="#0000FF"/>
<rect x="141.92" y="739.78" width="4" height="4" fill="#0000FF"/>
<rect x="159.44" y="737.57" width="4" height="4" fill="#0000FF"/>
<rect x="182.8" y="736.92" width="4" height="4" fill="#0000FF"/>
<rect x="200.32" y="736.66" width="4" height="4" fill="#0000FF"/>
<rect x="223.68" y="736.92" width="4" height="4" fill="#0000FF"/>
<rect x="241.2" y="736.01" width="4" height="4" fill="#0000FF"/>
<rect x="264.56" y="734.59" width="4" height="4" fill="#0000FF"/>
<rect x="282.08" y="735.5" width="4" height="4" fill="#0000FF"/>
<path d="M62.16 726.21V721.67 M60.16 721.67H64.16M79.68 721.54V713.89 M77.68 713.89H81.68M103.04 721.54V710 M101.04 710H105.04M120.56 719.99V703.51 M118.56 703.51H122.56M143.92 718.56V698.33 M141.92 698.33H145.92M161.44 715.32V691.84 M159.44 691.84H163.44M184.8 711.94V680.17 M182.8 680.17H186.8M202.32 708.96V672.39 M200.32 672.39H204.32M225.68 703.12V650.08 M223.68 650.08H227.68M243.2 697.94V674.98 M241.2 674.98H245.2M266.56 689.51V669.14 M264.56 669.14H268.56M284.08 679.91V656.17 M282.08 656.17H286.08" stroke="#B050D8" stroke-width="0.75" fill="none"/>
<polyline points="38.8,728.16 62.16,726.21 79.68,721.54 103.04,721.54 120.56,719.99 143.92,718.56 161.44,715.32 184.8,711.94 202.32,708.96 225.68,703.12 243.2,697.94 266.56,689.51 284.08,679.91" stroke="#B050D8" stroke-width="1.1" fill="none" stroke-linejoin="round"/>
<path d="M36.4 726.48L41.2 726.48L38.8 730.56Z" fill="#B050D8"/>
<path d="M59.76 724.53L64.56 724.53L62.16 728.61Z" fill="#B050D8"/>
<path d="M77.28 719.86L82.08 719.86L79.68 723.94Z" fill="#B050D8"/>
<path d="M100.64 719.86L105.44 719.86L103.04 723.94Z" fill="#B050D8"/>
<path d="M118.16 718.31L122.96 718.31L120.56 722.39Z" fill="#B050D8"/>
<path d="M141.52 716.88L146.32 716.88L143.92 720.96Z" fill="#B050D8"/>
<path d="M159.04 713.64L163.84 713.64L161.44 717.72Z" fill="#B050D8"/>
<path d="M182.4 710.26L187.2 710.26L184.8 714.34Z" fill="#B050D8"/>
<path d="M199.92 707.28L204.72 707.28L202.32 711.36Z" fill="#B050D8"/>
<path d="M223.28 701.44L228.08 701.44L225.68 705.52Z" fill="#B050D8"/>
<path d="M240.8 696.26L245.6 696.26L243.2 700.34Z" fill="#B050D8"/>
<path d="M264.16 687.83L268.96 687.83L266.56 691.91Z" fill="#B050D8"/>
<path d="M281.68 678.23L286.48 678.23L284.08 682.31Z" fill="#B050D8"/>
<path d="M62.16 725.04V719.08 M60.16 719.08H64.16M79.68 720.12V708.05 M77.68 708.05H81.68M103.04 715.84V700.92 M101.04 700.92H105.04M120.56 711.81V698.33 M118.56 698.33H122.56M143.92 707.53V694.43 M141.92 694.43H145.92M161.44 703.77V690.54 M159.44 690.54H163.44M184.8 697.94V671.09 M182.8 671.09H186.8M202.32 690.03V663.31 M200.32 663.31H204.32M225.68 682.76V649.04 M223.68 649.04H227.68M243.2 673.94V634.77 M241.2 634.77H245.2M266.56 660.97V614.8 M264.56 614.8H268.56M284.08 653.06V603.13 M282.08 603.13H286.08" stroke="#9900CC" stroke-width="0.75" fill="none"/>
<polyline points="38.8,728.16 62.16,725.04 79.68,720.12 103.04,715.84 120.56,711.81 143.92,707.53 161.44,703.77 184.8,697.94 202.32,690.03 225.68,682.76 243.2,673.94 266.56,660.97 284.08,653.06" stroke="#9900CC" stroke-width="1.1" fill="none" stroke-linejoin="round"/>
<rect x="36.8" y="726.16" width="4" height="4" fill="#9900CC"/>
<rect x="60.16" y="723.04" width="4" height="4" fill="#9900CC"/>
<rect x="77.68" y="718.12" width="4" height="4" fill="#9900CC"/>
<rect x="101.04" y="713.84" width="4" height="4" fill="#9900CC"/>
<rect x="118.56" y="709.81" width="4" height="4" fill="#9900CC"/>
<rect x="141.92" y="705.53" width="4" height="4" fill="#9900CC"/>
<rect x="159.44" y="701.77" width="4" height="4" fill="#9900CC"/>
<rect x="182.8" y="695.94" width="4" height="4" fill="#9900CC"/>
<rect x="200.32" y="688.03" width="4" height="4" fill="#9900CC"/>
<rect x="223.68" y="680.76" width="4" height="4" fill="#9900CC"/>
<rect x="241.2" y="671.94" width="4" height="4" fill="#9900CC"/>
<rect x="264.56" y="658.97" width="4" height="4" fill="#9900CC"/>
<rect x="282.08" y="651.06" width="4" height="4" fill="#9900CC"/>
<path d="M62.16 720.63V713.89 M60.16 713.89H64.16M79.68 716.09V709.35 M77.68 709.35H81.68M103.04 709.35V699.62 M101.04 699.62H105.04M120.56 703.51V690.03 M118.56 690.03H122.56M143.92 697.94V682.11 M141.92 682.11H145.92M161.44 692.36V673.42 M159.44 673.42H163.44M184.8 690.93V668.75 M182.8 668.75H186.8M202.32 689.12V662.92 M200.32 662.92H204.32M225.68 684.71V655.65 M223.68 655.65H227.68M243.2 681.21V649.3 M241.2 649.3H245.2M266.56 673.94V635.29 M264.56 635.29H268.56M284.08 665.77V620.12 M282.08 620.12H286.08" stroke="#111" stroke-width="0.75" fill="none"/>
<polyline points="38.8,728.16 62.16,720.63 79.68,716.09 103.04,709.35 120.56,703.51 143.92,697.94 161.44,692.36 184.8,690.93 202.32,689.12 225.68,684.71 243.2,681.21 266.56,673.94 284.08,665.77" stroke="#111" stroke-width="1.1" fill="none" stroke-linejoin="round"/>
<circle cx="38.8" cy="728.16" r="2" fill="#000000"/>
<circle cx="62.16" cy="720.63" r="2" fill="#000000"/>
<circle cx="79.68" cy="716.09" r="2" fill="#000000"/>
<circle cx="103.04" cy="709.35" r="2" fill="#000000"/>
<circle cx="120.56" cy="703.51" r="2" fill="#000000"/>
<circle cx="143.92" cy="697.94" r="2" fill="#000000"/>
<circle cx="161.44" cy="692.36" r="2" fill="#000000"/>
<circle cx="184.8" cy="690.93" r="2" fill="#000000"/>
<circle cx="202.32" cy="689.12" r="2" fill="#000000"/>
<circle cx="225.68" cy="684.71" r="2" fill="#000000"/>
<circle cx="243.2" cy="681.21" r="2" fill="#000000"/>
<circle cx="266.56" cy="673.94" r="2" fill="#000000"/>
<circle cx="284.08" cy="665.77" r="2" fill="#000000"/>
<path d="M44.1 558.4H54.9" stroke="#000000" stroke-width="0.9" fill="none"/>
<circle cx="49.5" cy="558.4" r="2" fill="#000000"/>
<text x="60.9" y="561.4" font-size="6.8" text-anchor="start" font-weight="bold" fill="#000" xml:space="preserve">Vehicle</text>
<path d="M44.1 571.6H54.9" stroke="#9900CC" stroke-width="0.9" fill="none"/>
<rect x="47.5" y="569.6" width="4" height="4" fill="#9900CC"/>
<text x="60.9" y="569" font-size="6.8" text-anchor="start" font-weight="bold" fill="#000" xml:space="preserve">Trastuzumab 5mg/kg, single dose i.v.+Pertuzumab 5mg/kg,</text>
<text x="60.9" y="577.3" font-size="6.8" text-anchor="start" font-weight="bold" fill="#000" xml:space="preserve">single dose i.v.+Paclitaxel 10mg/kg, BIWx4 i.p.</text>
<path d="M44.1 586.6H54.9" stroke="#B050D8" stroke-width="0.9" fill="none"/>
<path d="M47.1 584.92L51.9 584.92L49.5 589Z" fill="#B050D8"/>
<text x="60.9" y="584.9" font-size="6.8" text-anchor="start" font-weight="bold" fill="#000" xml:space="preserve">Trastuzumab 5mg/kg, single dose, i.v. + Pertuzumab 5mg/kg, single dose,</text>
<text x="60.9" y="592.6" font-size="6.8" text-anchor="start" font-weight="bold" fill="#000" xml:space="preserve">i.v. + Capecitabine 300mg/kg, qd x14, p.o.</text>
<path d="M44.1 598.6H54.9" stroke="#0000FF" stroke-width="0.9" fill="none"/>
<rect x="47.5" y="596.6" width="4" height="4" fill="#0000FF"/>
<text x="60.9" y="600.6" font-size="6.8" text-anchor="start" font-weight="bold" fill="#000" xml:space="preserve">GQ1001 5mg/kg, Single dose i.v.</text>
<path d="M44.1 606.9H54.9" stroke="#FF8C1A" stroke-width="0.9" fill="none"/>
<rect x="47.5" y="604.9" width="4" height="4" fill="#FF8C1A"/>
<text x="60.9" y="609.6" font-size="6.8" text-anchor="start" font-weight="bold" fill="#000" xml:space="preserve">GQ1001 5mg/kg, single dose i.v.+Pertuzumab 5mg/kg, single dose i.v.</text>
<path d="M44.1 619.4H54.9" stroke="#8888FF" stroke-width="0.9" fill="none"/>
<path d="M49.5 616.92L51.98 619.4L49.5 621.88L47.02 619.4Z" fill="#8888FF"/>
<text x="60.9" y="617.8" font-size="6.8" text-anchor="start" font-weight="bold" fill="#000" xml:space="preserve">GQ1001 5mg/kg, single dose i.v.+Pertuzumab 5mg/kg,</text>
<text x="60.9" y="626" font-size="6.8" text-anchor="start" font-weight="bold" fill="#000" xml:space="preserve">single dose i.v.+Paclitaxel 10mg/kg, BIWx4 i.p.</text>
<path d="M44.1 635.4H54.9" stroke="#000080" stroke-width="0.9" fill="none"/>
<circle cx="49.5" cy="635.4" r="2" fill="#000080"/>
<text x="60.9" y="633.5" font-size="6.8" text-anchor="start" font-weight="bold" fill="#000" xml:space="preserve">GQ1001 5mg/kg, single dose, i.v. + Pertuzumab 5mg/kg,</text>
<text x="60.9" y="642.8" font-size="6.8" text-anchor="start" font-weight="bold" fill="#000" xml:space="preserve">single dose, i.v. + Capecitabine 300mg/kg, qd x14, p.o.</text>
<text x="355" y="549" font-size="15.6" text-anchor="start" font-weight="normal" fill="#000">F</text>
<text x="462.2" y="539.7" font-size="9.81" text-anchor="start" font-weight="bold" fill="#000">HCC1954 breast cancer CDX model</text>
<path d="M383.6 556.99V752.8 M383.1 752.8H679.49" stroke="#1a1a1a" stroke-width="1.0" fill="none"/>
<path d="M380.8 752.8H383.6M380.8 720.16H383.6M380.8 687.53H383.6M380.8 654.89H383.6M380.8 622.26H383.6M380.8 589.62H383.6M380.8 556.99H383.6M383.6 752.8V755.6M442.78 752.8V755.6M501.96 752.8V755.6M561.13 752.8V755.6M620.31 752.8V755.6M679.49 752.8V755.6" stroke="#1a1a1a" stroke-width="1.0" fill="none"/>
<text x="380.1" y="756.29" font-size="8.3" text-anchor="end" font-weight="bold" fill="#000">0</text>
<text x="380.1" y="723.65" font-size="8.3" text-anchor="end" font-weight="bold" fill="#000">500</text>
<text x="380.1" y="691.02" font-size="8.3" text-anchor="end" font-weight="bold" fill="#000">1000</text>
<text x="380.1" y="658.38" font-size="8.3" text-anchor="end" font-weight="bold" fill="#000">1500</text>
<text x="380.1" y="625.75" font-size="8.3" text-anchor="end" font-weight="bold" fill="#000">2000</text>
<text x="380.1" y="593.11" font-size="8.3" text-anchor="end" font-weight="bold" fill="#000">2500</text>
<text x="380.1" y="560.48" font-size="8.3" text-anchor="end" font-weight="bold" fill="#000">3000</text>
<text x="383.6" y="764.9" font-size="8.4" text-anchor="middle" font-weight="bold" fill="#000">0</text>
<text x="442.78" y="764.9" font-size="8.4" text-anchor="middle" font-weight="bold" fill="#000">7</text>
<text x="501.96" y="764.9" font-size="8.4" text-anchor="middle" font-weight="bold" fill="#000">14</text>
<text x="561.13" y="764.9" font-size="8.4" text-anchor="middle" font-weight="bold" fill="#000">21</text>
<text x="620.31" y="764.9" font-size="8.4" text-anchor="middle" font-weight="bold" fill="#000">28</text>
<text x="679.49" y="764.9" font-size="8.4" text-anchor="middle" font-weight="bold" fill="#000">35</text>
<text x="531.4" y="780" font-size="8.2" text-anchor="middle" font-weight="bold" fill="#000">Days after treatment</text>
<text transform="translate(359.6 654) rotate(-90)" font-size="8.3" text-anchor="middle" font-weight="bold">Tumor volume (mm<tspan font-size="5.4" dy="-3.15">3</tspan><tspan dy="3.15">)</tspan></text>
<path d="M417.42 740.07V738.77 M415.22 738.77H419.62M442.78 734.85V733.22 M440.58 733.22H444.98M476.59 736.48V735.18 M474.39 735.18H478.79M501.96 740.73V739.42 M499.76 739.42H504.16M535.77 738.96V736.81 M533.57 736.81H537.97M561.13 739.62V736.48 M558.93 736.48H563.33M594.95 739.62V737.46 M592.75 737.46H597.15M620.31 738.7V736.16 M618.11 736.16H622.51M654.13 737.98V733.22 M651.93 733.22H656.33M679.49 735.7V730.28 M677.29 730.28H681.69" stroke="#000080" stroke-width="0.8" fill="none"/>
<polyline points="383.6,744.31 417.42,740.07 442.78,734.85 476.59,736.48 501.96,740.73 535.77,738.96 561.13,739.62 594.95,739.62 620.31,738.7 654.13,737.98 679.49,735.7" stroke="#000080" stroke-width="0.85" fill="none" stroke-linejoin="round"/>
<circle cx="383.6" cy="744.31" r="2.3" fill="#000080"/>
<circle cx="417.42" cy="740.07" r="2.3" fill="#000080"/>
<circle cx="442.78" cy="734.85" r="2.3" fill="#000080"/>
<circle cx="476.59" cy="736.48" r="2.3" fill="#000080"/>
<circle cx="501.96" cy="740.73" r="2.3" fill="#000080"/>
<circle cx="535.77" cy="738.96" r="2.3" fill="#000080"/>
<circle cx="561.13" cy="739.62" r="2.3" fill="#000080"/>
<circle cx="594.95" cy="739.62" r="2.3" fill="#000080"/>
<circle cx="620.31" cy="738.7" r="2.3" fill="#000080"/>
<circle cx="654.13" cy="737.98" r="2.3" fill="#000080"/>
<circle cx="679.49" cy="735.7" r="2.3" fill="#000080"/>
<path d="M417.42 740.4V739.42 M415.22 739.42H419.62M442.78 735.83V734.52 M440.58 734.52H444.98M476.59 734.52V733.22 M474.39 733.22H478.79M501.96 735.18V733.87 M499.76 733.87H504.16M535.77 731.65V729.96 M533.57 729.96H537.97M561.13 728.39V726.69 M558.93 726.69H563.33M594.95 722.45V720.16 M592.75 720.16H597.15M620.31 719.19V716.25 M618.11 716.25H622.51M654.13 711.55V707.11 M651.93 707.11H656.33M679.49 702.74V680.94 M677.29 680.94H681.69" stroke="#8888FF" stroke-width="0.8" fill="none"/>
<polyline points="383.6,744.31 417.42,740.4 442.78,735.83 476.59,734.52 501.96,735.18 535.77,731.65 561.13,728.39 594.95,722.45 620.31,719.19 654.13,711.55 679.49,702.74" stroke="#8888FF" stroke-width="0.85" fill="none" stroke-linejoin="round"/>
<path d="M383.6 741.46L386.45 744.31L383.6 747.17L380.75 744.31Z" fill="#8888FF"/>
<path d="M417.42 737.55L420.27 740.4L417.42 743.25L414.56 740.4Z" fill="#8888FF"/>
<path d="M442.78 732.98L445.63 735.83L442.78 738.68L439.93 735.83Z" fill="#8888FF"/>
<path d="M476.59 731.67L479.45 734.52L476.59 737.38L473.74 734.52Z" fill="#8888FF"/>
<path d="M501.96 732.33L504.81 735.18L501.96 738.03L499.1 735.18Z" fill="#8888FF"/>
<path d="M535.77 728.8L538.62 731.65L535.77 734.5L532.92 731.65Z" fill="#8888FF"/>
<path d="M561.13 725.54L563.99 728.39L561.13 731.24L558.28 728.39Z" fill="#8888FF"/>
<path d="M594.95 719.6L597.8 722.45L594.95 725.3L592.1 722.45Z" fill="#8888FF"/>
<path d="M620.31 716.33L623.16 719.19L620.31 722.04L617.46 719.19Z" fill="#8888FF"/>
<path d="M654.13 708.7L656.98 711.55L654.13 714.4L651.28 711.55Z" fill="#8888FF"/>
<path d="M679.49 699.89L682.34 702.74L679.49 705.59L676.64 702.74Z" fill="#8888FF"/>
<path d="M417.42 740.07V738.77 M415.22 738.77H419.62M442.78 735.7V734.2 M440.58 734.2H444.98M476.59 731.59V729.96 M474.39 729.96H478.79M501.96 728.52V726.69 M499.76 726.69H504.16M535.77 723.17V721.47 M533.57 721.47H537.97M561.13 719.84V717.55 M558.93 717.55H563.33M594.95 713.64V711.03 M592.75 711.03H597.15M620.31 709.33V705.81 M618.11 705.81H622.51M654.13 701.95V684.27 M651.93 684.27H656.33M679.49 716.25V710.37 M677.29 710.37H681.69" stroke="#0000FF" stroke-width="0.8" fill="none"/>
<polyline points="383.6,744.31 417.42,740.07 442.78,735.7 476.59,731.59 501.96,728.52 535.77,723.17 561.13,719.84 594.95,713.64 620.31,709.33 654.13,701.95 679.49,716.25" stroke="#0000FF" stroke-width="0.85" fill="none" stroke-linejoin="round"/>
<rect x="381.3" y="742.01" width="4.6" height="4.6" fill="#0000FF"/>
<rect x="415.12" y="737.77" width="4.6" height="4.6" fill="#0000FF"/>
<rect x="440.48" y="733.4" width="4.6" height="4.6" fill="#0000FF"/>
<rect x="474.29" y="729.29" width="4.6" height="4.6" fill="#0000FF"/>
<rect x="499.66" y="726.22" width="4.6" height="4.6" fill="#0000FF"/>
<rect x="533.47" y="720.87" width="4.6" height="4.6" fill="#0000FF"/>
<rect x="558.83" y="717.54" width="4.6" height="4.6" fill="#0000FF"/>
<rect x="592.65" y="711.34" width="4.6" height="4.6" fill="#0000FF"/>
<rect x="618.01" y="707.03" width="4.6" height="4.6" fill="#0000FF"/>
<rect x="651.83" y="699.65" width="4.6" height="4.6" fill="#0000FF"/>
<rect x="677.19" y="713.95" width="4.6" height="4.6" fill="#0000FF"/>
<path d="M417.42 741.57V740.4 M415.22 740.4H419.62M442.78 738.31V737.14 M440.58 737.14H444.98M476.59 727.67V726.04 M474.39 726.04H478.79M501.96 726.82V725.39 M499.76 725.39H504.16M535.77 717.55V714.94 M533.57 714.94H537.97M561.13 712.66V709.72 M558.93 709.72H563.33M594.95 707.63V704.5 M592.75 704.5H597.15M620.31 702.15V698.63 M618.11 698.63H622.51M654.13 694.12V690.79 M651.93 690.79H656.33M679.49 687.01V664.69 M677.29 664.69H681.69" stroke="#C040D0" stroke-width="0.8" fill="none"/>
<polyline points="383.6,744.31 417.42,741.57 442.78,738.31 476.59,727.67 501.96,726.82 535.77,717.55 561.13,712.66 594.95,707.63 620.31,702.15 654.13,694.12 679.49,687.01" stroke="#C040D0" stroke-width="0.85" fill="none" stroke-linejoin="round"/>
<path d="M380.38 746.38L386.82 746.38L383.6 741.32Z" fill="#C040D0"/>
<path d="M414.2 743.64L420.64 743.64L417.42 738.58Z" fill="#C040D0"/>
<path d="M439.56 740.38L446 740.38L442.78 735.32Z" fill="#C040D0"/>
<path d="M473.37 729.74L479.81 729.74L476.59 724.68Z" fill="#C040D0"/>
<path d="M498.74 728.89L505.18 728.89L501.96 723.83Z" fill="#C040D0"/>
<path d="M532.55 719.62L538.99 719.62L535.77 714.56Z" fill="#C040D0"/>
<path d="M557.91 714.73L564.35 714.73L561.13 709.67Z" fill="#C040D0"/>
<path d="M591.73 709.7L598.17 709.7L594.95 704.64Z" fill="#C040D0"/>
<path d="M617.09 704.22L623.53 704.22L620.31 699.16Z" fill="#C040D0"/>
<path d="M650.91 696.19L657.35 696.19L654.13 691.13Z" fill="#C040D0"/>
<path d="M676.27 689.08L682.71 689.08L679.49 684.02Z" fill="#C040D0"/>
<path d="M417.42 741.05V739.75 M415.22 739.75H419.62M442.78 737.79V731.26 M440.58 731.26H444.98M476.59 727.34V725.39 M474.39 725.39H478.79M501.96 726.04V724.08 M499.76 724.08H504.16M535.77 716.58V713.64 M533.57 713.64H537.97M561.13 710.96V699.28 M558.93 699.28H563.33M594.95 707.63V704.5 M592.75 704.5H597.15M620.31 701.76V697.97 M618.11 697.97H622.51M654.13 687.66V677.74 M651.93 677.74H656.33M679.49 673.11V655.87 M677.29 655.87H681.69" stroke="#A020F0" stroke-width="0.8" fill="none"/>
<polyline points="383.6,744.31 417.42,741.05 442.78,737.79 476.59,727.34 501.96,726.04 535.77,716.58 561.13,710.96 594.95,707.63 620.31,701.76 654.13,687.66 679.49,673.11" stroke="#A020F0" stroke-width="0.85" fill="none" stroke-linejoin="round"/>
<rect x="381.3" y="742.01" width="4.6" height="4.6" fill="#A020F0"/>
<rect x="415.12" y="738.75" width="4.6" height="4.6" fill="#A020F0"/>
<rect x="440.48" y="735.49" width="4.6" height="4.6" fill="#A020F0"/>
<rect x="474.29" y="725.04" width="4.6" height="4.6" fill="#A020F0"/>
<rect x="499.66" y="723.74" width="4.6" height="4.6" fill="#A020F0"/>
<rect x="533.47" y="714.28" width="4.6" height="4.6" fill="#A020F0"/>
<rect x="558.83" y="708.66" width="4.6" height="4.6" fill="#A020F0"/>
<rect x="592.65" y="705.33" width="4.6" height="4.6" fill="#A020F0"/>
<rect x="618.01" y="699.46" width="4.6" height="4.6" fill="#A020F0"/>
<rect x="651.83" y="685.36" width="4.6" height="4.6" fill="#A020F0"/>
<rect x="677.19" y="670.81" width="4.6" height="4.6" fill="#A020F0"/>
<path d="M417.42 739.42V738.11 M415.22 738.11H419.62M442.78 734.52V733.22 M440.58 733.22H444.98M476.59 726.69V724.73 M474.39 724.73H478.79M501.96 725.06V722.78 M499.76 722.78H504.16M535.77 719.19V716.25 M533.57 716.25H537.97M561.13 713.25V709.72 M558.93 709.72H563.33M594.95 706.72V703.19 M592.75 703.19H597.15M620.31 706.46V703.19 M618.11 703.19H622.51M654.13 675.72V664.69 M651.93 664.69H656.33M679.49 644.52V641.84 M677.29 641.84H681.69" stroke="#9C8B48" stroke-width="0.8" fill="none"/>
<polyline points="383.6,744.31 417.42,739.42 442.78,734.52 476.59,726.69 501.96,725.06 535.77,719.19 561.13,713.25 594.95,706.72 620.31,706.46 654.13,675.72 679.49,644.52" stroke="#9C8B48" stroke-width="0.85" fill="none" stroke-linejoin="round"/>
<rect x="381.3" y="742.01" width="4.6" height="4.6" fill="#9C8B48"/>
<rect x="415.12" y="737.12" width="4.6" height="4.6" fill="#9C8B48"/>
<rect x="440.48" y="732.22" width="4.6" height="4.6" fill="#9C8B48"/>
<rect x="474.29" y="724.39" width="4.6" height="4.6" fill="#9C8B48"/>
<rect x="499.66" y="722.76" width="4.6" height="4.6" fill="#9C8B48"/>
<rect x="533.47" y="716.89" width="4.6" height="4.6" fill="#9C8B48"/>
<rect x="558.83" y="710.95" width="4.6" height="4.6" fill="#9C8B48"/>
<rect x="592.65" y="704.42" width="4.6" height="4.6" fill="#9C8B48"/>
<rect x="618.01" y="704.16" width="4.6" height="4.6" fill="#9C8B48"/>
<rect x="651.83" y="673.42" width="4.6" height="4.6" fill="#9C8B48"/>
<rect x="677.19" y="642.22" width="4.6" height="4.6" fill="#9C8B48"/>
<path d="M417.42 739.42V737.79 M415.22 737.79H419.62M442.78 734.39V732.57 M440.58 732.57H444.98M476.59 725.78V723.43 M474.39 723.43H478.79M501.96 723.75V721.47 M499.76 721.47H504.16M535.77 713.25V709.72 M533.57 709.72H537.97M561.13 706.07V701.24 M558.93 701.24H563.33M594.95 697.84V694.06 M592.75 694.06H597.15M620.31 693.14V687.53 M618.11 687.53H622.51M654.13 673.11V660.38 M651.93 660.38H656.33M679.49 638.38V624.09 M677.29 624.09H681.69" stroke="#FF8000" stroke-width="0.8" fill="none"/>
<polyline points="383.6,744.31 417.42,739.42 442.78,734.39 476.59,725.78 501.96,723.75 535.77,713.25 561.13,706.07 594.95,697.84 620.31,693.14 654.13,673.11 679.49,638.38" stroke="#FF8000" stroke-width="0.85" fill="none" stroke-linejoin="round"/>
<rect x="381.3" y="742.01" width="4.6" height="4.6" fill="#FF8000"/>
<rect x="415.12" y="737.12" width="4.6" height="4.6" fill="#FF8000"/>
<rect x="440.48" y="732.09" width="4.6" height="4.6" fill="#FF8000"/>
<rect x="474.29" y="723.48" width="4.6" height="4.6" fill="#FF8000"/>
<rect x="499.66" y="721.45" width="4.6" height="4.6" fill="#FF8000"/>
<rect x="533.47" y="710.95" width="4.6" height="4.6" fill="#FF8000"/>
<rect x="558.83" y="703.77" width="4.6" height="4.6" fill="#FF8000"/>
<rect x="592.65" y="695.54" width="4.6" height="4.6" fill="#FF8000"/>
<rect x="618.01" y="690.84" width="4.6" height="4.6" fill="#FF8000"/>
<rect x="651.83" y="670.81" width="4.6" height="4.6" fill="#FF8000"/>
<rect x="677.19" y="636.08" width="4.6" height="4.6" fill="#FF8000"/>
<path d="M417.42 739.81V738.11 M415.22 738.11H419.62M442.78 733.68V731.26 M440.58 731.26H444.98M476.59 724.73V721.47 M474.39 721.47H478.79M501.96 721.8V718.21 M499.76 718.21H504.16M535.77 711.94V708.42 M533.57 708.42H537.97M561.13 707.63V703.19 M558.93 703.19H563.33M594.95 696.15V691.45 M592.75 691.45H597.15M620.31 685.44V680.94 M618.11 680.94H622.51M654.13 647.52V635.9 M651.93 635.9H656.33M679.49 595.37V576.57 M677.29 576.57H681.69" stroke="#111" stroke-width="0.8" fill="none"/>
<polyline points="383.6,744.31 417.42,739.81 442.78,733.68 476.59,724.73 501.96,721.8 535.77,711.94 561.13,707.63 594.95,696.15 620.31,685.44 654.13,647.52 679.49,595.37" stroke="#111" stroke-width="0.85" fill="none" stroke-linejoin="round"/>
<circle cx="383.6" cy="744.31" r="2.3" fill="#000000"/>
<circle cx="417.42" cy="739.81" r="2.3" fill="#000000"/>
<circle cx="442.78" cy="733.68" r="2.3" fill="#000000"/>
<circle cx="476.59" cy="724.73" r="2.3" fill="#000000"/>
<circle cx="501.96" cy="721.8" r="2.3" fill="#000000"/>
<circle cx="535.77" cy="711.94" r="2.3" fill="#000000"/>
<circle cx="561.13" cy="707.63" r="2.3" fill="#000000"/>
<circle cx="594.95" cy="696.15" r="2.3" fill="#000000"/>
<circle cx="620.31" cy="685.44" r="2.3" fill="#000000"/>
<circle cx="654.13" cy="647.52" r="2.3" fill="#000000"/>
<circle cx="679.49" cy="595.37" r="2.3" fill="#000000"/>
<path d="M386.6 558.2H397" stroke="#000000" stroke-width="0.9" fill="none"/>
<circle cx="391.8" cy="558.2" r="2.05" fill="#000000"/>
<text x="402.8" y="560.8" font-size="6.87" text-anchor="start" font-weight="bold" fill="#000" xml:space="preserve">Vehicle</text>
<path d="M386.6 568.4H397" stroke="#FF8000" stroke-width="0.9" fill="none"/>
<rect x="389.75" y="566.35" width="4.1" height="4.1" fill="#FF8000"/>
<text x="403.8" y="570.4" font-size="6.87" text-anchor="start" font-weight="bold" fill="#000" xml:space="preserve">Paclitaxel 10mg/kg, BIWx4 i.p.</text>
<path d="M386.6 578.3H397" stroke="#9C8B48" stroke-width="0.9" fill="none"/>
<rect x="389.75" y="576.25" width="4.1" height="4.1" fill="#9C8B48"/>
<text x="402.8" y="580.3" font-size="6.87" text-anchor="start" font-weight="bold" fill="#000" xml:space="preserve">Capecitabine 300mg/kg, qdx14 p.o.</text>
<path d="M386.6 588.6H397" stroke="#A020F0" stroke-width="0.9" fill="none"/>
<rect x="389.75" y="586.55" width="4.1" height="4.1" fill="#A020F0"/>
<text x="402.8" y="590.5" font-size="6.87" text-anchor="start" font-weight="bold" fill="#000" xml:space="preserve">Trastuzumab 5mg/kg, single dose i.v.+Paclitaxel 10mg/kg, BIWx4 i.p.</text>
<path d="M386.6 603.7H397" stroke="#C040D0" stroke-width="0.9" fill="none"/>
<path d="M388.93 605.55L394.67 605.55L391.8 601.04Z" fill="#C040D0"/>
<text x="402.8" y="600.7" font-size="6.87" text-anchor="start" font-weight="bold" fill="#000" xml:space="preserve">Trastuzumab 5mg/kg, single dose i.v.+Pertuzumab 5mg/kg,</text>
<text x="402.8" y="608.8" font-size="6.87" text-anchor="start" font-weight="bold" fill="#000" xml:space="preserve">single dose i.v.+Paclitaxel 10mg/kg, BIWx4 i.p.</text>
<path d="M386.6 617H397" stroke="#0000FF" stroke-width="0.9" fill="none"/>
<rect x="389.75" y="614.95" width="4.1" height="4.1" fill="#0000FF"/>
<text x="402.8" y="619" font-size="6.87" text-anchor="start" font-weight="bold" fill="#000" xml:space="preserve">GQ1001 2mg/kg, single dose i.v.</text>
<path d="M386.6 627.3H397" stroke="#8888FF" stroke-width="0.9" fill="none"/>
<path d="M391.8 624.76L394.34 627.3L391.8 629.84L389.26 627.3Z" fill="#8888FF"/>
<text x="402.8" y="629.3" font-size="6.87" text-anchor="start" font-weight="bold" fill="#000" xml:space="preserve">GQ1001 2mg/kg, single dose i.v.+Paclitaxel 10mg/kg, BIWx4 i.p.</text>
<path d="M386.6 637.9H397" stroke="#000080" stroke-width="0.9" fill="none"/>
<circle cx="391.8" cy="637.9" r="2.05" fill="#000080"/>
<text x="402.8" y="639.9" font-size="6.87" text-anchor="start" font-weight="bold" fill="#000" xml:space="preserve">GQ1001 2mg/kg, single dose i.v.+Capecitabine 300mg/kg, qdx14 p.o.</text>
</svg>
</body></html>
